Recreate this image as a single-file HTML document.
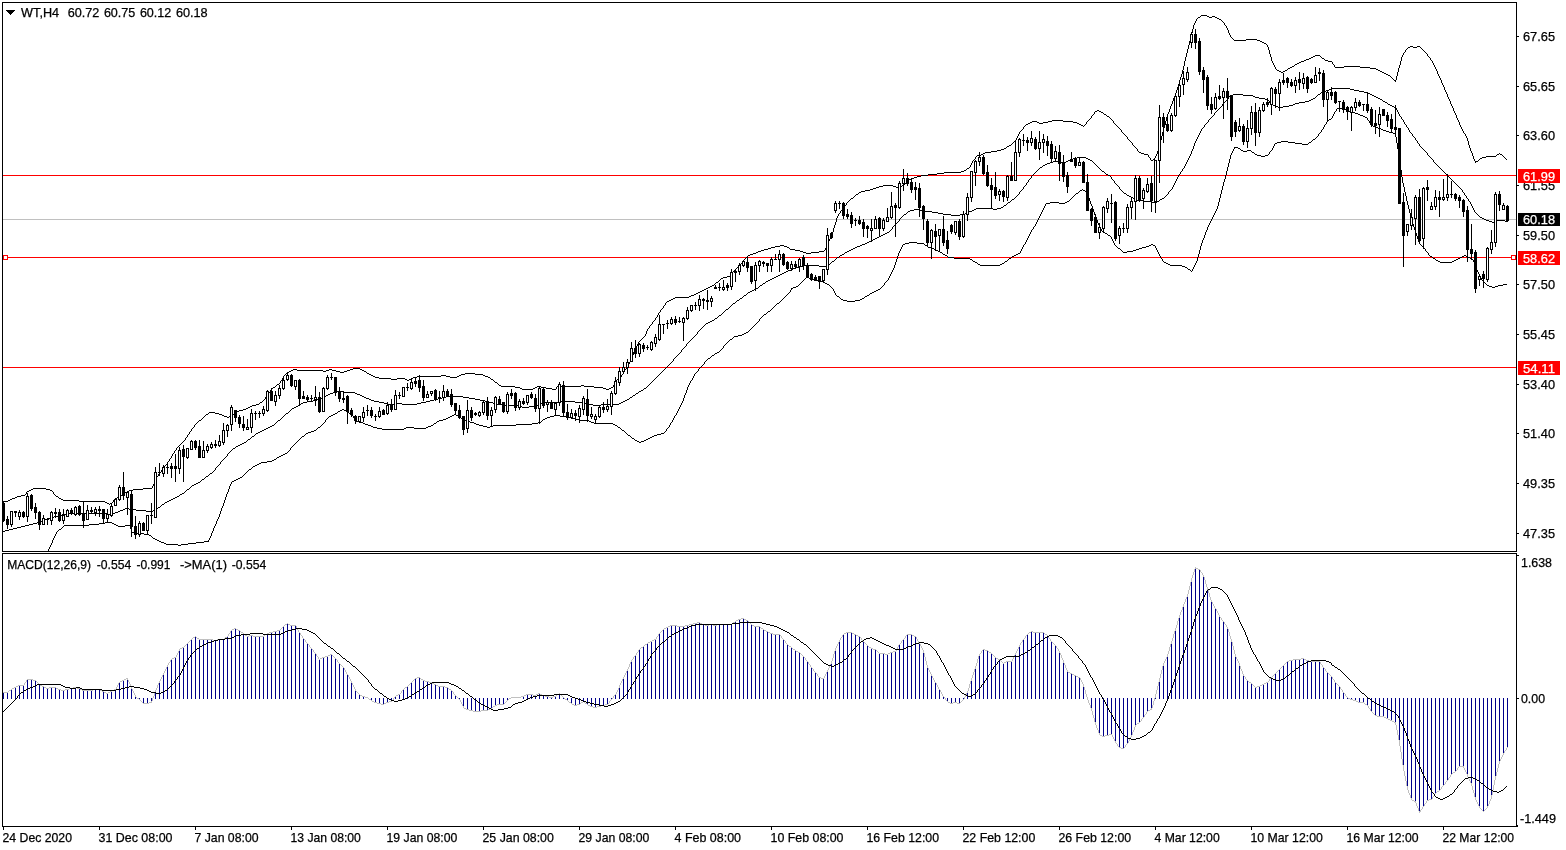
<!DOCTYPE html>
<html><head><meta charset="utf-8"><title>WT,H4</title>
<style>html,body{margin:0;padding:0;background:#fff;overflow:hidden}svg{display:block}text{font-family:"Liberation Sans",sans-serif;font-size:12.6px;fill:#000;stroke:#000;stroke-width:0.25px}</style>
</head><body>
<svg width="1566" height="850" viewBox="0 0 1566 850">
<rect width="1566" height="850" fill="#fff"/>
<defs><clipPath id="c1"><rect x="3" y="3" width="1513" height="548"/></clipPath><clipPath id="c2"><rect x="3" y="554" width="1513" height="272"/></clipPath></defs>
<g clip-path="url(#c1)">
<rect x="3" y="219" width="1513" height="1" fill="#c0c0c0" shape-rendering="crispEdges"/>
<rect x="3" y="175" width="1513" height="1" fill="#ff0000" shape-rendering="crispEdges"/>
<rect x="3" y="257" width="1513" height="1" fill="#ff0000" shape-rendering="crispEdges"/>
<rect x="3" y="367" width="1513" height="1" fill="#ff0000" shape-rendering="crispEdges"/>
<g shape-rendering="crispEdges">
<path d="M1107 116h2v1h-2zM31 489h2v1h-2zM46 489h4v1h-4zM133 489h10v1h-10zM367 373h2v1h-2zM465 373h10v1h-10zM2 501h6v1h-6zM79 501h26v1h-26zM1001 149h3v1h-3zM675 297h14v1h-14zM501 386h14v1h-14zM537 386h4v1h-4zM557 386h24v1h-24zM584 386h10v1h-10zM273 387h2v1h-2zM515 387h5v1h-5zM535 387h2v1h-2zM541 387h5v1h-5zM594 387h9v1h-9zM611 387h2v1h-2zM1315 55h5v1h-5zM928 174h9v1h-9zM761 250h3v1h-3zM795 250h5v1h-5zM522 389h11v1h-11zM552 389h4v1h-4zM606 389h3v1h-3zM293 369h4v1h-4zM329 369h3v1h-3zM350 369h3v1h-3zM360 369h2v1h-2zM375 377h4v1h-4zM413 377h4v1h-4zM450 377h7v1h-7zM488 377h2v1h-2zM1151 160h2v1h-2zM1030 122h2v1h-2zM1037 122h2v1h-2zM1043 122h5v1h-5zM1073 122h4v1h-4zM1304 60h2v1h-2zM1325 60h3v1h-3zM1292 66h2v1h-2zM1344 66h16v1h-16zM706 288h2v1h-2zM851 198h2v1h-2zM883 185h10v1h-10zM902 185h2v1h-2zM1097 110h2v1h-2zM723 277h4v1h-4zM1408 47h2v1h-2zM1413 47h4v1h-4zM8 500h2v1h-2zM63 500h16v1h-16zM21 495h4v1h-4zM120 495h2v1h-2zM1081 125h2v1h-2zM977 155h4v1h-4zM291 370h2v1h-2zM297 370h26v1h-26zM326 370h3v1h-3zM332 370h4v1h-4zM347 370h3v1h-3zM362 370h2v1h-2zM371 375h2v1h-2zM441 375h5v1h-5zM459 375h2v1h-2zM483 375h2v1h-2zM29 490h2v1h-2zM50 490h2v1h-2zM129 490h4v1h-4zM1486 156h10v1h-10zM1052 120h11v1h-11zM379 378h12v1h-12zM397 378h8v1h-8zM411 378h2v1h-2zM10 499h2v1h-2zM61 499h2v1h-2zM252 405h4v1h-4zM870 189h3v1h-3zM1234 40h12v1h-12zM1257 40h3v1h-3zM1313 56h2v1h-2zM215 413h4v1h-4zM991 151h6v1h-6zM1288 68h2v1h-2zM1370 68h6v1h-6zM1260 41h2v1h-2zM1028 123h2v1h-2zM1039 123h4v1h-4zM1077 123h2v1h-2zM985 152h6v1h-6zM1139 152h2v1h-2zM859 192h2v1h-2zM981 154h2v1h-2zM1144 154h4v1h-4zM1497 154h2v1h-2zM1500 154h2v1h-2zM1101 112h2v1h-2zM1153 159h2v1h-2zM1410 46h3v1h-3zM1417 46h3v1h-3zM1198 17h2v1h-2zM1209 17h3v1h-3zM1215 17h2v1h-2zM775 246h5v1h-5zM784 246h3v1h-3zM256 404h3v1h-3zM873 188h3v1h-3zM1384 73h2v1h-2zM12 498h3v1h-3zM59 498h2v1h-2zM115 498h2v1h-2zM17 496h4v1h-4zM56 496h2v1h-2zM1007 146h2v1h-2zM206 414h2v1h-2zM219 414h3v1h-3zM1475 161h3v1h-3zM1032 121h5v1h-5zM1048 121h4v1h-4zM1063 121h10v1h-10zM1279 71h2v1h-2zM1283 71h2v1h-2zM1380 71h2v1h-2zM764 249h4v1h-4zM790 249h5v1h-5zM239 410h4v1h-4zM700 291h2v1h-2zM33 488h13v1h-13zM143 488h9v1h-9zM1388 75h2v1h-2zM696 293h2v1h-2zM1295 64h2v1h-2zM1104 114h2v1h-2zM1301 61h3v1h-3zM1328 61h4v1h-4zM1309 58h2v1h-2zM1322 58h2v1h-2zM756 252h2v1h-2zM803 252h3v1h-3zM811 252h8v1h-8zM209 412h6v1h-6zM235 412h2v1h-2zM123 493h2v1h-2zM243 409h3v1h-3zM373 376h2v1h-2zM417 376h24v1h-24zM446 376h4v1h-4zM457 376h2v1h-2zM485 376h3v1h-3zM879 186h4v1h-4zM893 186h3v1h-3zM899 186h3v1h-3zM287 372h2v1h-2zM340 372h4v1h-4zM671 299h2v1h-2zM917 176h4v1h-4zM750 254h3v1h-3zM1264 43h2v1h-2zM1004 148h2v1h-2zM1306 59h3v1h-3zM407 380h2v1h-2zM1207 16h2v1h-2zM1212 16h3v1h-3zM944 172h17v1h-17zM1482 157h4v1h-4zM391 379h6v1h-6zM405 379h2v1h-2zM409 379h2v1h-2zM491 379h2v1h-2zM617 379h2v1h-2zM1219 19h2v1h-2zM495 382h2v1h-2zM689 296h2v1h-2zM250 406h2v1h-2zM1277 70h2v1h-2zM1285 70h2v1h-2zM1378 70h2v1h-2zM224 416h3v1h-3zM229 416h2v1h-2zM861 191h4v1h-4zM704 289h2v1h-2zM983 153h2v1h-2zM1141 153h3v1h-3zM1281 72h2v1h-2zM1382 72h2v1h-2zM1009 145h2v1h-2zM1246 39h11v1h-11zM1290 67h2v1h-2zM1335 67h9v1h-9zM1360 67h10v1h-10zM520 388h2v1h-2zM533 388h2v1h-2zM546 388h6v1h-6zM603 388h3v1h-3zM609 388h2v1h-2zM289 371h2v1h-2zM323 371h3v1h-3zM336 371h4v1h-4zM344 371h3v1h-3zM364 371h2v1h-2zM771 247h4v1h-4zM787 247h2v1h-2zM499 385h2v1h-2zM581 385h3v1h-3zM27 491h2v1h-2zM127 491h2v1h-2zM691 295h3v1h-3zM125 492h2v1h-2zM1386 74h2v1h-2zM1262 42h2v1h-2zM712 285h2v1h-2zM876 187h3v1h-3zM896 187h3v1h-3zM353 368h7v1h-7zM673 298h2v1h-2zM1201 15h6v1h-6zM914 177h3v1h-3zM1376 69h2v1h-2zM260 402h2v1h-2zM753 253h3v1h-3zM806 253h5v1h-5zM1480 158h2v1h-2zM222 415h2v1h-2zM231 415h2v1h-2zM1095 111h2v1h-2zM1099 111h2v1h-2zM865 190h5v1h-5zM997 150h4v1h-4zM967 168h2v1h-2zM1299 62h2v1h-2zM369 374h2v1h-2zM461 374h4v1h-4zM475 374h8v1h-8zM768 248h3v1h-3zM694 294h2v1h-2zM669 300h2v1h-2zM1026 124h2v1h-2zM1079 124h2v1h-2zM937 173h7v1h-7zM1311 57h2v1h-2zM248 407h2v1h-2zM702 290h2v1h-2zM780 245h4v1h-4zM856 194h2v1h-2zM107 503h2v1h-2zM110 503h2v1h-2zM15 497h2v1h-2zM117 497h2v1h-2zM748 255h2v1h-2zM721 278h2v1h-2zM277 384h2v1h-2zM758 251h3v1h-3zM800 251h3v1h-3zM819 251h5v1h-5zM921 175h7v1h-7zM911 178h3v1h-3zM710 286h2v1h-2zM727 276h3v1h-3zM667 301h2v1h-2zM1394 80h2v1h-2zM1297 63h2v1h-2zM1217 18h2v1h-2zM105 502h2v1h-2zM227 417h2v1h-2zM246 408h2v1h-2zM237 411h2v1h-2zM199 420h2v1h-2zM909 179h2v1h-2zM708 287h2v1h-2zM964 170h2v1h-2zM698 292h2v1h-2zM716 282h2v1h-2zM961 171h3v1h-3zM1091 116h1v2h-1zM1470 148h1v3h-1zM1019 132h1v2h-1zM1158 147h1v4h-1zM1474 159h1v2h-1zM1271 57h1v4h-1zM1399 65h1v3h-1zM153 484h1v2h-1zM1015 140h1v1h-1zM1191 33h1v4h-1zM1423 50h1v1h-1zM635 348h1v2h-1zM1025 125h1v1h-1zM196 423h1v1h-1zM181 443h1v1h-1zM1496 155h1v1h-1zM1132 143h1v2h-1zM1441 80h1v3h-1zM1320 56h1v1h-1zM1196 19h1v2h-1zM1270 54h1v3h-1zM1448 97h1v2h-1zM1166 117h1v4h-1zM1454 111h1v2h-1zM1506 159h1v1h-1zM1455 113h1v2h-1zM113 500h1v2h-1zM179 445h1v1h-1zM634 350h1v2h-1zM836 218h1v4h-1zM1462 129h1v2h-1zM1406 49h1v1h-1zM1437 71h1v3h-1zM1161 136h1v4h-1zM739 265h1v1h-1zM1334 65h1v2h-1zM631 358h1v2h-1zM1469 145h1v3h-1zM1402 55h1v2h-1zM1479 159h1v1h-1zM1165 121h1v4h-1zM731 274h1v1h-1zM1425 52h1v1h-1zM163 468h1v1h-1zM1397 72h1v4h-1zM158 474h1v2h-1zM1093 114h1v1h-1zM1160 140h1v3h-1zM1088 120h1v1h-1zM715 283h1v1h-1zM1446 92h1v2h-1zM154 481h1v3h-1zM267 394h1v2h-1zM1184 61h1v5h-1zM1453 108h1v3h-1zM1456 115h1v3h-1zM1103 113h1v1h-1zM638 342h1v2h-1zM653 321h1v1h-1zM1190 37h1v4h-1zM1460 125h1v2h-1zM1148 155h1v2h-1zM1463 131h1v2h-1zM233 414h1v1h-1zM833 228h1v4h-1zM973 160h1v1h-1zM1188 45h1v4h-1zM846 203h1v2h-1zM969 167h1v1h-1zM645 334h1v2h-1zM830 237h1v2h-1zM1176 90h1v3h-1zM281 380h1v1h-1zM853 197h1v1h-1zM1006 147h1v1h-1zM1163 128h1v4h-1zM197 422h1v1h-1zM615 381h1v2h-1zM907 181h1v1h-1zM1018 134h1v2h-1zM829 239h1v2h-1zM204 416h1v1h-1zM733 271h1v1h-1zM1014 141h1v1h-1zM1175 93h1v3h-1zM185 438h1v2h-1zM1420 47h1v1h-1zM114 499h1v1h-1zM1434 65h1v2h-1zM1162 132h1v4h-1zM745 258h1v1h-1zM740 264h1v1h-1zM1444 87h1v3h-1zM1267 45h1v2h-1zM659 312h1v1h-1zM1451 104h1v2h-1zM828 241h1v3h-1zM655 318h1v2h-1zM732 272h1v2h-1zM1174 96h1v2h-1zM1458 120h1v2h-1zM650 325h1v1h-1zM743 260h1v1h-1zM164 466h1v2h-1zM276 385h1v1h-1zM52 491h1v1h-1zM53 492h1v2h-1zM630 360h1v2h-1zM1178 84h1v3h-1zM658 313h1v2h-1zM1086 122h1v2h-1zM626 367h1v2h-1zM268 393h1v1h-1zM556 387h1v2h-1zM1421 48h1v1h-1zM1422 49h1v1h-1zM1126 136h1v1h-1zM1172 101h1v3h-1zM280 381h1v2h-1zM649 326h1v2h-1zM1436 69h1v2h-1zM1092 115h1v1h-1zM974 159h1v1h-1zM1442 83h1v2h-1zM1443 85h1v2h-1zM614 383h1v2h-1zM629 362h1v2h-1zM970 165h1v2h-1zM1177 87h1v3h-1zM286 373h1v1h-1zM839 213h1v1h-1zM1450 101h1v3h-1zM1227 28h1v2h-1zM625 369h1v1h-1zM1110 118h1v1h-1zM1228 30h1v3h-1zM1111 119h1v1h-1zM1505 158h1v1h-1zM1457 118h1v2h-1zM1432 61h1v2h-1zM1136 148h1v1h-1zM1398 68h1v4h-1zM850 199h1v1h-1zM621 375h1v2h-1zM1023 127h1v2h-1zM845 205h1v1h-1zM174 451h1v2h-1zM644 336h1v1h-1zM1168 112h1v2h-1zM613 385h1v2h-1zM190 431h1v1h-1zM1287 69h1v1h-1zM1185 57h1v4h-1zM1272 61h1v2h-1zM838 214h1v2h-1zM1106 115h1v1h-1zM1128 139h1v1h-1zM664 305h1v1h-1zM1180 77h1v3h-1zM173 453h1v1h-1zM1167 114h1v3h-1zM1013 142h1v1h-1zM184 440h1v1h-1zM169 459h1v2h-1zM1113 121h1v2h-1zM497 383h1v1h-1zM825 248h1v2h-1zM1154 158h1v1h-1zM744 259h1v1h-1zM1466 136h1v2h-1zM663 306h1v2h-1zM172 454h1v2h-1zM736 268h1v1h-1zM1274 65h1v2h-1zM654 320h1v1h-1zM264 399h1v1h-1zM1130 141h1v1h-1zM1183 66h1v4h-1zM1229 33h1v2h-1zM493 380h1v1h-1zM1131 142h1v1h-1zM844 206h1v1h-1zM1085 124h1v1h-1zM1115 124h1v1h-1zM1464 133h1v1h-1zM1024 126h1v1h-1zM1439 76h1v2h-1zM195 424h1v1h-1zM908 180h1v1h-1zM1465 134h1v2h-1zM719 280h1v1h-1zM1390 76h1v1h-1zM1269 50h1v4h-1zM186 437h1v1h-1zM1424 51h1v1h-1zM637 344h1v2h-1zM1231 37h1v1h-1zM494 381h1v1h-1zM620 377h1v1h-1zM835 222h1v3h-1zM178 446h1v1h-1zM633 352h1v3h-1zM1405 50h1v2h-1zM189 432h1v2h-1zM1401 57h1v4h-1zM730 275h1v1h-1zM1117 126h1v1h-1zM490 378h1v1h-1zM1200 16h1v1h-1zM162 469h1v1h-1zM1396 76h1v4h-1zM58 497h1v1h-1zM1294 65h1v1h-1zM1392 78h1v1h-1zM1404 52h1v1h-1zM1445 90h1v2h-1zM1268 47h1v3h-1zM208 413h1v1h-1zM1192 29h1v4h-1zM122 494h1v1h-1zM168 461h1v1h-1zM1452 106h1v2h-1zM1426 53h1v1h-1zM1109 117h1v1h-1zM1427 54h1v2h-1zM1430 58h1v2h-1zM1134 146h1v1h-1zM1233 39h1v1h-1zM1459 122h1v3h-1zM1135 147h1v1h-1zM647 329h1v2h-1zM272 388h1v1h-1zM1187 49h1v4h-1zM156 477h1v2h-1zM284 375h1v1h-1zM1149 157h1v1h-1zM848 201h1v1h-1zM646 331h1v3h-1zM843 207h1v1h-1zM1266 44h1v1h-1zM1089 119h1v1h-1zM642 338h1v1h-1zM1084 125h1v1h-1zM966 169h1v1h-1zM1157 151h1v3h-1zM1428 56h1v1h-1zM1112 120h1v1h-1zM1137 149h1v2h-1zM194 425h1v2h-1zM55 495h1v1h-1zM1468 141h1v4h-1zM904 184h1v1h-1zM1194 23h1v2h-1zM1471 151h1v2h-1zM1224 23h1v2h-1zM201 419h1v1h-1zM1011 144h1v1h-1zM167 462h1v2h-1zM854 196h1v1h-1zM1189 41h1v4h-1zM177 447h1v1h-1zM742 261h1v2h-1zM714 284h1v1h-1zM737 267h1v1h-1zM1193 25h1v4h-1zM205 415h1v1h-1zM652 322h1v2h-1zM119 496h1v1h-1zM1114 123h1v1h-1zM498 384h1v1h-1zM1171 104h1v2h-1zM161 470h1v2h-1zM1438 74h1v2h-1zM1179 80h1v4h-1zM741 263h1v1h-1zM285 374h1v1h-1zM1400 61h1v4h-1zM651 324h1v1h-1zM1230 35h1v2h-1zM1094 112h1v2h-1zM720 279h1v1h-1zM1170 106h1v3h-1zM160 472h1v1h-1zM906 182h1v1h-1zM1395 81h1v1h-1zM832 232h1v3h-1zM789 248h1v1h-1zM152 486h1v2h-1zM1182 70h1v4h-1zM279 383h1v1h-1zM1116 125h1v1h-1zM847 202h1v1h-1zM1440 78h1v2h-1zM176 448h1v2h-1zM1169 109h1v3h-1zM831 235h1v2h-1zM1186 53h1v4h-1zM1195 21h1v2h-1zM641 339h1v1h-1zM1447 94h1v3h-1zM858 193h1v1h-1zM1273 63h1v2h-1zM202 418h1v1h-1zM1012 143h1v1h-1zM183 441h1v1h-1zM112 502h1v1h-1zM1461 127h1v2h-1zM1133 145h1v1h-1zM366 372h1v1h-1zM259 403h1v1h-1zM834 225h1v3h-1zM632 355h1v3h-1zM157 476h1v1h-1zM660 310h1v2h-1zM1478 160h1v1h-1zM656 317h1v1h-1zM266 396h1v1h-1zM1124 134h1v1h-1zM165 465h1v1h-1zM824 250h1v1h-1zM1090 118h1v1h-1zM972 161h1v2h-1zM643 337h1v1h-1zM1473 156h1v3h-1zM1222 21h1v1h-1zM1503 156h1v1h-1zM265 397h1v2h-1zM1226 26h1v2h-1zM975 157h1v2h-1zM1150 158h1v2h-1zM619 378h1v1h-1zM1391 77h1v1h-1zM905 183h1v1h-1zM971 163h1v2h-1zM1017 136h1v2h-1zM840 211h1v2h-1zM188 434h1v1h-1zM855 195h1v1h-1zM1499 153h1v1h-1zM1232 38h1v1h-1zM26 492h1v2h-1zM622 374h1v1h-1zM1429 57h1v1h-1zM1433 63h1v2h-1zM1127 137h1v2h-1zM109 504h1v1h-1zM1138 151h1v1h-1zM1020 131h1v1h-1zM191 429h1v2h-1zM1403 53h1v2h-1zM171 456h1v2h-1zM735 269h1v1h-1zM1472 153h1v3h-1zM1016 138h1v2h-1zM187 435h1v2h-1zM827 244h1v2h-1zM1156 154h1v2h-1zM1118 127h1v1h-1zM182 442h1v1h-1zM1173 98h1v3h-1zM1119 128h1v1h-1zM747 256h1v1h-1zM1181 74h1v3h-1zM1393 79h1v1h-1zM661 309h1v1h-1zM1333 64h1v1h-1zM271 389h1v1h-1zM155 479h1v2h-1zM170 458h1v1h-1zM657 315h1v2h-1zM1164 125h1v3h-1zM283 376h1v2h-1zM826 246h1v2h-1zM1155 156h1v2h-1zM1431 60h1v1h-1zM718 281h1v1h-1zM1467 138h1v3h-1zM1321 57h1v1h-1zM1159 143h1v4h-1zM270 390h1v2h-1zM842 208h1v2h-1zM1449 99h1v2h-1zM628 364h1v2h-1zM1083 126h1v1h-1zM1275 67h1v2h-1zM624 370h1v2h-1zM1120 129h1v1h-1zM282 378h1v2h-1zM1121 130h1v2h-1zM1022 129h1v1h-1zM1332 62h1v2h-1zM616 380h1v1h-1zM639 341h1v1h-1zM841 210h1v1h-1zM234 413h1v1h-1zM837 216h1v2h-1zM623 372h1v2h-1zM1276 69h1v1h-1zM25 494h1v1h-1zM1122 132h1v1h-1zM198 421h1v1h-1zM1123 133h1v1h-1zM666 302h1v1h-1zM734 270h1v1h-1zM166 464h1v1h-1zM1221 20h1v1h-1zM1502 155h1v1h-1zM746 257h1v1h-1zM665 303h1v2h-1zM738 266h1v1h-1zM263 400h1v1h-1zM976 156h1v1h-1zM1125 135h1v1h-1zM849 200h1v1h-1zM1435 67h1v2h-1zM627 366h1v1h-1zM269 392h1v1h-1zM1087 121h1v1h-1zM640 340h1v1h-1zM636 346h1v2h-1zM1021 130h1v1h-1zM192 428h1v1h-1zM54 494h1v1h-1zM180 444h1v1h-1zM1407 48h1v1h-1zM175 450h1v1h-1zM662 308h1v1h-1zM203 417h1v1h-1zM1225 25h1v1h-1zM159 473h1v1h-1zM1475 162h1v1h-1zM1129 140h1v1h-1zM275 386h1v1h-1zM1223 22h1v1h-1zM1504 157h1v1h-1zM262 401h1v1h-1zM648 328h1v1h-1zM1197 18h1v1h-1zM1324 59h1v1h-1zM193 427h1v1h-1z" fill="#000"/>
<path d="M877 237h2v1h-2zM118 511h2v1h-2zM146 511h7v1h-7zM800 266h4v1h-4zM819 266h7v1h-7zM66 513h42v1h-42zM113 513h2v1h-2zM62 514h4v1h-4zM108 514h5v1h-5zM1043 165h2v1h-2zM847 251h2v1h-2zM299 404h2v1h-2zM388 404h6v1h-6zM402 404h15v1h-15zM497 404h5v1h-5zM538 404h2v1h-2zM587 404h6v1h-6zM601 404h18v1h-18zM296 406h2v1h-2zM518 406h4v1h-4zM529 406h7v1h-7zM54 516h4v1h-4zM303 402h4v1h-4zM379 402h5v1h-5zM421 402h5v1h-5zM489 402h4v1h-4zM542 402h17v1h-17zM575 402h8v1h-8zM621 402h2v1h-2zM260 431h2v1h-2zM320 398h2v1h-2zM366 398h3v1h-3zM438 398h4v1h-4zM469 398h6v1h-6zM333 392h4v1h-4zM343 392h12v1h-12zM796 267h4v1h-4zM1143 201h9v1h-9zM1157 201h2v1h-2zM45 519h3v1h-3zM301 403h2v1h-2zM384 403h4v1h-4zM394 403h8v1h-8zM417 403h4v1h-4zM493 403h4v1h-4zM540 403h2v1h-2zM583 403h4v1h-4zM619 403h2v1h-2zM307 401h6v1h-6zM374 401h5v1h-5zM426 401h4v1h-4zM485 401h4v1h-4zM559 401h16v1h-16zM623 401h2v1h-2zM502 405h16v1h-16zM536 405h2v1h-2zM593 405h8v1h-8zM849 250h2v1h-2zM740 298h2v1h-2zM1329 89h3v1h-3zM1350 89h4v1h-4zM202 479h2v1h-2zM33 523h4v1h-4zM1070 159h3v1h-3zM1088 159h2v1h-2zM1040 167h2v1h-2zM1050 162h3v1h-3zM1060 162h6v1h-6zM1129 196h2v1h-2zM330 393h3v1h-3zM355 393h2v1h-2zM636 393h2v1h-2zM120 510h3v1h-3zM136 510h10v1h-10zM153 510h2v1h-2zM1275 106h3v1h-3zM1283 106h6v1h-6zM1392 106h2v1h-2zM869 241h2v1h-2zM644 388h2v1h-2zM1137 200h6v1h-6zM641 390h2v1h-2zM1332 88h18v1h-18zM313 400h4v1h-4zM371 400h3v1h-3zM430 400h4v1h-4zM480 400h5v1h-5zM625 400h2v1h-2zM1008 202h2v1h-2zM1152 202h5v1h-5zM1273 105h2v1h-2zM1289 105h4v1h-4zM1390 105h2v1h-2zM158 507h2v1h-2zM737 300h2v1h-2zM1053 161h7v1h-7zM1066 161h2v1h-2zM324 396h2v1h-2zM362 396h2v1h-2zM446 396h17v1h-17zM1482 218h2v1h-2zM784 272h2v1h-2zM932 212h6v1h-6zM967 212h2v1h-2zM1045 164h2v1h-2zM842 254h2v1h-2zM1486 220h3v1h-3zM1496 220h9v1h-9zM1278 107h5v1h-5zM1394 107h2v1h-2zM1133 198h2v1h-2zM1162 198h2v1h-2zM1305 101h4v1h-4zM1383 101h2v1h-2zM1295 103h4v1h-4zM1299 102h6v1h-6zM1385 102h2v1h-2zM1259 98h6v1h-6zM1313 98h2v1h-2zM1378 98h2v1h-2zM857 246h3v1h-3zM1271 104h2v1h-2zM1293 104h2v1h-2zM1388 104h2v1h-2zM115 512h3v1h-3zM1323 91h3v1h-3zM1359 91h5v1h-5zM910 210h4v1h-4zM919 210h4v1h-4zM972 210h2v1h-2zM1073 158h4v1h-4zM1086 158h2v1h-2zM192 485h2v1h-2zM1265 99h3v1h-3zM1311 99h2v1h-2zM1380 99h2v1h-2zM1309 100h2v1h-2zM772 278h2v1h-2zM951 215h9v1h-9zM1077 157h9v1h-9zM322 397h2v1h-2zM364 397h2v1h-2zM442 397h4v1h-4zM463 397h6v1h-6zM630 397h2v1h-2zM328 394h2v1h-2zM357 394h3v1h-3zM1106 174h2v1h-2zM1012 199h2v1h-2zM1135 199h2v1h-2zM1160 199h2v1h-2zM1127 195h2v1h-2zM756 288h2v1h-2zM1102 171h2v1h-2zM706 323h2v1h-2zM1230 95h3v1h-3zM1243 95h10v1h-10zM1372 95h2v1h-2zM40 521h3v1h-3zM292 408h2v1h-2zM175 497h2v1h-2zM1255 97h4v1h-4zM1376 97h2v1h-2zM708 322h2v1h-2zM242 443h2v1h-2zM804 265h15v1h-15zM826 265h3v1h-3zM908 211h2v1h-2zM923 211h9v1h-9zM969 211h3v1h-3zM885 233h2v1h-2zM766 281h2v1h-2zM1368 93h2v1h-2zM5 530h4v1h-4zM244 442h2v1h-2zM780 274h2v1h-2zM167 501h2v1h-2zM976 208h17v1h-17zM997 208h4v1h-4zM252 436h2v1h-2zM1321 92h2v1h-2zM1364 92h4v1h-4zM182 493h2v1h-2zM853 248h2v1h-2zM1233 94h10v1h-10zM1318 94h2v1h-2zM1370 94h2v1h-2zM1484 219h2v1h-2zM715 318h2v1h-2zM1068 160h2v1h-2zM1090 160h2v1h-2zM1047 163h3v1h-3zM873 239h2v1h-2zM165 502h2v1h-2zM123 509h2v1h-2zM129 509h7v1h-7zM155 509h2v1h-2zM768 280h2v1h-2zM278 420h2v1h-2zM1131 197h2v1h-2zM788 270h3v1h-3zM258 432h2v1h-2zM43 520h2v1h-2zM754 289h2v1h-2zM867 242h2v1h-2zM17 527h4v1h-4zM125 508h4v1h-4zM832 261h2v1h-2zM763 283h2v1h-2zM240 444h2v1h-2zM198 482h2v1h-2zM782 273h2v1h-2zM914 209h5v1h-5zM974 209h2v1h-2zM993 209h4v1h-4zM21 526h4v1h-4zM9 529h4v1h-4zM206 476h2v1h-2zM266 428h2v1h-2zM1124 193h2v1h-2zM1492 222h2v1h-2zM837 257h2v1h-2zM233 448h2v1h-2zM1004 205h2v1h-2zM317 399h3v1h-3zM369 399h2v1h-2zM434 399h4v1h-4zM475 399h5v1h-5zM627 399h2v1h-2zM326 395h2v1h-2zM360 395h2v1h-2zM633 395h2v1h-2zM938 213h5v1h-5zM965 213h2v1h-2zM875 238h2v1h-2zM1253 96h2v1h-2zM1374 96h2v1h-2zM791 269h2v1h-2zM173 498h2v1h-2zM25 525h4v1h-4zM1108 175h2v1h-2zM862 244h3v1h-3zM337 391h6v1h-6zM639 391h2v1h-2zM13 528h4v1h-4zM887 232h2v1h-2zM883 234h2v1h-2zM2 531h3v1h-3zM760 285h2v1h-2zM29 524h4v1h-4zM1489 221h3v1h-3zM1494 221h2v1h-2zM1505 221h2v1h-2zM778 275h2v1h-2zM865 243h2v1h-2zM855 247h2v1h-2zM268 427h2v1h-2zM162 504h2v1h-2zM48 518h3v1h-3zM770 279h2v1h-2zM904 214h2v1h-2zM943 214h8v1h-8zM960 214h5v1h-5zM248 439h2v1h-2zM294 407h2v1h-2zM522 407h7v1h-7zM256 433h2v1h-2zM1326 90h3v1h-3zM1354 90h5v1h-5zM845 252h2v1h-2zM752 290h2v1h-2zM169 500h2v1h-2zM171 499h2v1h-2zM238 445h2v1h-2zM180 494h2v1h-2zM851 249h2v1h-2zM264 429h2v1h-2zM51 517h3v1h-3zM1001 207h2v1h-2zM726 309h2v1h-2zM196 483h2v1h-2zM776 276h2v1h-2zM710 321h2v1h-2zM744 295h2v1h-2zM712 320h2v1h-2zM748 292h2v1h-2zM187 489h2v1h-2zM37 522h3v1h-3zM272 425h2v1h-2zM750 291h2v1h-2zM881 235h2v1h-2zM236 446h2v1h-2zM262 430h2v1h-2zM793 268h3v1h-3zM58 515h4v1h-4zM871 240h2v1h-2zM1480 217h2v1h-2zM786 271h2v1h-2zM719 315h2v1h-2zM194 484h2v1h-2zM774 277h2v1h-2zM733 303h2v1h-2zM286 413h2v1h-2zM177 496h2v1h-2zM270 426h2v1h-2zM840 255h2v1h-2zM210 473h2v1h-2zM879 236h2v1h-2zM860 245h2v1h-2zM759 286h1v1h-1zM1185 164h1v2h-1zM1028 180h1v2h-1zM1417 141h1v2h-1zM732 304h1v1h-1zM1039 168h1v1h-1zM284 415h1v1h-1zM1118 186h1v1h-1zM1119 187h1v2h-1zM1184 166h1v2h-1zM1434 162h1v1h-1zM1159 200h1v1h-1zM900 218h1v1h-1zM1419 144h1v2h-1zM1441 169h1v1h-1zM1420 146h1v1h-1zM1456 184h1v1h-1zM892 227h1v2h-1zM664 369h1v1h-1zM1467 198h1v1h-1zM1223 103h1v1h-1zM746 294h1v1h-1zM1174 183h1v2h-1zM251 437h1v1h-1zM1218 109h1v1h-1zM208 475h1v1h-1zM1397 110h1v2h-1zM228 453h1v1h-1zM185 491h1v1h-1zM676 356h1v1h-1zM1010 201h1v1h-1zM899 219h1v2h-1zM671 362h1v1h-1zM1210 118h1v1h-1zM220 462h1v2h-1zM702 327h1v1h-1zM1205 124h1v1h-1zM215 468h1v2h-1zM725 310h1v1h-1zM1268 100h1v1h-1zM1189 156h1v2h-1zM635 394h1v1h-1zM1033 174h1v1h-1zM227 454h1v2h-1zM1197 137h1v2h-1zM1421 147h1v1h-1zM1443 171h1v1h-1zM1465 195h1v1h-1zM1468 199h1v2h-1zM686 344h1v2h-1zM1469 201h1v1h-1zM285 414h1v1h-1zM1021 190h1v1h-1zM1399 114h1v2h-1zM1016 196h1v1h-1zM1188 158h1v2h-1zM1396 108h1v2h-1zM1122 191h1v1h-1zM1196 139h1v2h-1zM1315 97h1v1h-1zM1123 192h1v1h-1zM894 225h1v1h-1zM1269 101h1v2h-1zM1180 172h1v2h-1zM1270 103h1v1h-1zM1176 179h1v2h-1zM831 262h1v1h-1zM1405 124h1v1h-1zM1409 130h1v2h-1zM1446 174h1v1h-1zM839 256h1v1h-1zM1192 149h1v2h-1zM1175 181h1v2h-1zM656 377h1v1h-1zM205 477h1v1h-1zM1171 189h1v1h-1zM1007 203h1v1h-1zM1092 161h1v1h-1zM1166 195h1v1h-1zM688 342h1v1h-1zM1452 180h1v1h-1zM648 385h1v1h-1zM663 370h1v1h-1zM683 348h1v1h-1zM1222 104h1v2h-1zM1203 127h1v1h-1zM660 373h1v1h-1zM1407 127h1v1h-1zM1015 197h1v1h-1zM675 357h1v1h-1zM695 335h1v1h-1zM1199 133h1v2h-1zM1411 133h1v1h-1zM1169 191h1v1h-1zM1214 113h1v2h-1zM1098 167h1v1h-1zM1458 186h1v1h-1zM1026 183h1v2h-1zM730 306h1v1h-1zM667 366h1v1h-1zM698 331h1v1h-1zM693 337h1v1h-1zM1432 159h1v1h-1zM200 481h1v1h-1zM705 324h1v1h-1zM1025 185h1v1h-1zM1454 182h1v1h-1zM1020 191h1v1h-1zM1479 216h1v1h-1zM1320 93h1v1h-1zM1424 150h1v1h-1zM736 301h1v1h-1zM650 383h1v1h-1zM288 412h1v1h-1zM893 226h1v1h-1zM1461 189h1v1h-1zM747 293h1v1h-1zM657 376h1v1h-1zM221 461h1v1h-1zM897 222h1v1h-1zM1126 194h1v1h-1zM1228 97h1v2h-1zM723 312h1v1h-1zM1191 151h1v3h-1zM1471 204h1v2h-1zM1398 112h1v2h-1zM298 405h1v1h-1zM1031 176h1v2h-1zM225 457h1v1h-1zM1110 176h1v1h-1zM1170 190h1v1h-1zM1006 204h1v1h-1zM1426 152h1v1h-1zM1121 190h1v1h-1zM1448 176h1v1h-1zM1427 153h1v2h-1zM687 343h1v1h-1zM1022 189h1v1h-1zM1038 169h1v1h-1zM255 434h1v1h-1zM283 416h1v1h-1zM189 488h1v1h-1zM699 330h1v1h-1zM1382 100h1v1h-1zM1014 198h1v1h-1zM674 358h1v1h-1zM694 336h1v1h-1zM1198 135h1v2h-1zM274 424h1v1h-1zM1094 163h1v1h-1zM1030 178h1v1h-1zM1408 128h1v2h-1zM729 307h1v1h-1zM643 389h1v1h-1zM1178 175h1v2h-1zM1473 208h1v2h-1zM157 508h1v1h-1zM1428 155h1v1h-1zM1450 178h1v1h-1zM289 411h1v1h-1zM1177 177h1v2h-1zM906 213h1v1h-1zM762 284h1v1h-1zM1096 165h1v1h-1zM1410 132h1v1h-1zM1097 166h1v1h-1zM649 384h1v1h-1zM1457 185h1v1h-1zM1164 197h1v1h-1zM1209 119h1v1h-1zM681 350h1v2h-1zM1204 125h1v2h-1zM276 422h1v1h-1zM1215 112h1v1h-1zM653 380h1v1h-1zM1430 157h1v1h-1zM668 365h1v1h-1zM1431 158h1v1h-1zM1227 99h1v1h-1zM232 449h1v1h-1zM722 313h1v1h-1zM680 352h1v1h-1zM1219 108h1v1h-1zM632 396h1v1h-1zM1187 160h1v2h-1zM224 458h1v1h-1zM1011 200h1v1h-1zM1412 134h1v2h-1zM1422 148h1v1h-1zM672 361h1v1h-1zM1099 168h1v1h-1zM1195 141h1v2h-1zM1459 187h1v1h-1zM1037 170h1v1h-1zM282 417h1v1h-1zM830 263h1v1h-1zM1186 162h1v2h-1zM1433 160h1v2h-1zM1182 169h1v2h-1zM1194 143h1v3h-1zM655 378h1v1h-1zM1413 136h1v1h-1zM898 221h1v1h-1zM1414 137h1v1h-1zM1316 96h1v1h-1zM1193 146h1v3h-1zM1462 190h1v2h-1zM890 230h1v1h-1zM743 296h1v1h-1zM164 503h1v1h-1zM662 371h1v1h-1zM836 258h1v1h-1zM226 456h1v1h-1zM1216 111h1v1h-1zM1173 185h1v2h-1zM1093 162h1v1h-1zM1168 192h1v2h-1zM1453 181h1v1h-1zM1435 163h1v1h-1zM669 364h1v1h-1zM844 253h1v1h-1zM1208 120h1v2h-1zM213 471h1v1h-1zM190 487h1v1h-1zM700 329h1v1h-1zM1472 206h1v2h-1zM1036 171h1v1h-1zM1475 212h1v1h-1zM275 423h1v1h-1zM697 332h1v2h-1zM692 338h1v1h-1zM629 398h1v1h-1zM1416 140h1v1h-1zM1111 177h1v2h-1zM1167 194h1v1h-1zM1226 100h1v1h-1zM1463 192h1v1h-1zM1464 193h1v2h-1zM684 347h1v1h-1zM704 325h1v1h-1zM1019 192h1v2h-1zM679 353h1v1h-1zM1095 164h1v1h-1zM290 410h1v1h-1zM1455 183h1v1h-1zM1042 166h1v1h-1zM281 418h1v1h-1zM1474 210h1v2h-1zM829 264h1v1h-1zM1400 116h1v1h-1zM714 319h1v1h-1zM1101 170h1v1h-1zM1113 180h1v1h-1zM1317 95h1v1h-1zM1181 171h1v1h-1zM1429 156h1v1h-1zM647 386h1v1h-1zM1466 196h1v2h-1zM891 229h1v1h-1zM161 505h1v1h-1zM902 216h1v1h-1zM179 495h1v1h-1zM654 379h1v1h-1zM246 441h1v1h-1zM219 464h1v1h-1zM214 470h1v1h-1zM661 372h1v1h-1zM1220 107h1v1h-1zM230 451h1v1h-1zM1201 129h1v2h-1zM1402 119h1v1h-1zM1172 187h1v2h-1zM673 359h1v2h-1zM1115 183h1v1h-1zM1207 122h1v1h-1zM217 466h1v1h-1zM728 308h1v1h-1zM665 368h1v1h-1zM1035 172h1v1h-1zM280 419h1v1h-1zM638 392h1v1h-1zM691 339h1v1h-1zM735 302h1v1h-1zM1437 165h1v1h-1zM1183 168h1v1h-1zM1023 187h1v2h-1zM703 326h1v1h-1zM1477 214h1v1h-1zM1018 194h1v1h-1zM1478 215h1v1h-1zM1117 185h1v1h-1zM834 260h1v1h-1zM903 215h1v1h-1zM1415 138h1v2h-1zM1439 167h1v1h-1zM1440 168h1v1h-1zM646 387h1v1h-1zM895 224h1v1h-1zM1221 106h1v1h-1zM231 450h1v1h-1zM721 314h1v1h-1zM160 506h1v1h-1zM1190 154h1v2h-1zM1104 172h1v1h-1zM1213 115h1v1h-1zM223 459h1v1h-1zM1105 173h1v1h-1zM685 346h1v1h-1zM218 465h1v1h-1zM1165 196h1v1h-1zM1224 102h1v1h-1zM229 452h1v1h-1zM677 355h1v1h-1zM1100 169h1v1h-1zM1112 179h1v1h-1zM1460 188h1v1h-1zM1442 170h1v1h-1zM1034 173h1v1h-1zM758 287h1v1h-1zM1449 177h1v1h-1zM889 231h1v1h-1zM742 297h1v1h-1zM247 440h1v1h-1zM1401 117h1v2h-1zM204 478h1v1h-1zM1404 122h1v2h-1zM1418 143h1v1h-1zM652 381h1v1h-1zM1114 181h1v2h-1zM1003 206h1v1h-1zM1470 202h1v2h-1zM1202 128h1v1h-1zM212 472h1v1h-1zM659 374h1v1h-1zM718 316h1v1h-1zM1436 164h1v1h-1zM1451 179h1v1h-1zM666 367h1v1h-1zM1225 101h1v1h-1zM1476 213h1v1h-1zM678 354h1v1h-1zM1403 120h1v2h-1zM250 438h1v1h-1zM1406 125h1v2h-1zM1217 110h1v1h-1zM689 341h1v1h-1zM1212 116h1v1h-1zM222 460h1v1h-1zM1116 184h1v1h-1zM670 363h1v1h-1zM1024 186h1v1h-1zM191 486h1v1h-1zM701 328h1v1h-1zM724 311h1v1h-1zM1387 103h1v1h-1zM696 334h1v1h-1zM1200 131h1v2h-1zM1027 182h1v1h-1zM731 305h1v1h-1zM1438 166h1v1h-1zM835 259h1v1h-1zM739 299h1v1h-1zM201 480h1v1h-1zM901 217h1v1h-1zM1444 172h1v1h-1zM1423 149h1v1h-1zM291 409h1v1h-1zM896 223h1v1h-1zM1445 173h1v1h-1zM1179 174h1v1h-1zM209 474h1v1h-1zM186 490h1v1h-1zM765 282h1v1h-1zM651 382h1v1h-1zM1211 117h1v1h-1zM1206 123h1v1h-1zM216 467h1v1h-1zM254 435h1v1h-1zM658 375h1v1h-1zM184 492h1v1h-1zM907 212h1v1h-1zM717 317h1v1h-1zM1029 179h1v1h-1zM690 340h1v1h-1zM1425 151h1v1h-1zM1229 96h1v1h-1zM1120 189h1v1h-1zM1447 175h1v1h-1zM235 447h1v1h-1zM682 349h1v1h-1zM1032 175h1v1h-1zM1017 195h1v1h-1zM277 421h1v1h-1z" fill="#000"/>
<path d="M318 427h2v1h-2zM373 427h4v1h-4zM406 427h8v1h-8zM426 427h2v1h-2zM487 427h3v1h-3zM618 427h2v1h-2zM363 423h2v1h-2zM434 423h2v1h-2zM474 423h2v1h-2zM532 423h6v1h-6zM594 423h19v1h-19zM439 420h4v1h-4zM464 420h2v1h-2zM579 420h10v1h-10zM329 416h2v1h-2zM450 416h2v1h-2zM458 416h2v1h-2zM550 416h4v1h-4zM560 416h7v1h-7zM980 265h20v1h-20zM1170 265h12v1h-12zM796 286h2v1h-2zM1489 286h3v1h-3zM1495 286h3v1h-3zM166 544h12v1h-12zM181 544h7v1h-7zM1018 253h2v1h-2zM843 300h4v1h-4zM855 300h5v1h-5zM365 424h3v1h-3zM476 424h3v1h-3zM516 424h16v1h-16zM613 424h2v1h-2zM1436 260h2v1h-2zM1454 260h2v1h-2zM876 290h2v1h-2zM64 525h25v1h-25zM116 525h2v1h-2zM125 525h6v1h-6zM1238 148h2v1h-2zM99 523h6v1h-6zM112 523h2v1h-2zM159 541h2v1h-2zM204 541h5v1h-5zM157 540h2v1h-2zM903 244h2v1h-2zM1151 244h2v1h-2zM1360 115h3v1h-3zM1302 144h6v1h-6zM1378 128h3v1h-3zM764 314h2v1h-2zM161 542h3v1h-3zM196 542h8v1h-8zM368 425h3v1h-3zM431 425h2v1h-2zM479 425h4v1h-4zM493 425h23v1h-23zM615 425h2v1h-2zM1352 112h3v1h-3zM1371 125h2v1h-2zM1002 263h2v1h-2zM1166 263h2v1h-2zM1188 269h2v1h-2zM905 243h4v1h-4zM917 243h7v1h-7zM359 422h4v1h-4zM470 422h4v1h-4zM538 422h3v1h-3zM591 422h3v1h-3zM105 522h7v1h-7zM1275 143h2v1h-2zM1295 143h7v1h-7zM975 262h2v1h-2zM1164 262h2v1h-2zM1440 262h12v1h-12zM135 533h9v1h-9zM335 413h2v1h-2zM349 413h2v1h-2zM934 249h2v1h-2zM1136 249h3v1h-3zM1337 108h7v1h-7zM118 526h7v1h-7zM1146 246h3v1h-3zM827 284h2v1h-2zM1503 284h4v1h-4zM768 311h2v1h-2zM1381 129h2v1h-2zM841 299h2v1h-2zM860 299h2v1h-2zM59 529h2v1h-2zM1108 235h2v1h-2zM954 258h16v1h-16zM1009 258h2v1h-2zM1433 258h2v1h-2zM1458 258h2v1h-2zM837 296h2v1h-2zM865 296h2v1h-2zM637 441h2v1h-2zM641 441h3v1h-3zM742 334h2v1h-2zM443 419h3v1h-3zM543 419h2v1h-2zM575 419h4v1h-4zM1257 155h4v1h-4zM1265 155h3v1h-3zM149 535h2v1h-2zM89 524h10v1h-10zM114 524h2v1h-2zM1050 202h9v1h-9zM1065 202h2v1h-2zM267 461h5v1h-5zM377 428h5v1h-5zM404 428h2v1h-2zM414 428h12v1h-12zM1277 142h4v1h-4zM1288 142h7v1h-7zM1309 142h2v1h-2zM371 426h2v1h-2zM428 426h3v1h-3zM483 426h4v1h-4zM490 426h3v1h-3zM382 429h22v1h-22zM791 288h2v1h-2zM931 248h3v1h-3zM1118 248h2v1h-2zM1139 248h3v1h-3zM1105 233h2v1h-2zM867 295h2v1h-2zM1252 152h2v1h-2zM938 251h2v1h-2zM1127 251h6v1h-6zM744 333h2v1h-2zM717 352h2v1h-2zM925 245h2v1h-2zM1149 245h2v1h-2zM1153 245h2v1h-2zM1346 110h3v1h-3zM272 460h2v1h-2zM646 439h2v1h-2zM948 257h6v1h-6zM1460 257h2v1h-2zM1468 257h2v1h-2zM164 543h2v1h-2zM188 543h8v1h-8zM635 440h2v1h-2zM644 440h2v1h-2zM928 247h3v1h-3zM1142 247h4v1h-4zM970 259h2v1h-2zM1456 259h2v1h-2zM1471 259h2v1h-2zM178 545h3v1h-3zM306 433h2v1h-2zM661 433h3v1h-3zM1243 151h4v1h-4zM1375 127h3v1h-3zM1255 154h2v1h-2zM650 437h2v1h-2zM155 539h2v1h-2zM1358 114h2v1h-2zM446 418h2v1h-2zM461 418h2v1h-2zM545 418h2v1h-2zM571 418h4v1h-4zM1349 111h3v1h-3zM356 421h3v1h-3zM437 421h2v1h-2zM466 421h4v1h-4zM589 421h2v1h-2zM302 436h2v1h-2zM652 436h2v1h-2zM730 339h2v1h-2zM973 261h2v1h-2zM1005 261h2v1h-2zM1438 261h2v1h-2zM1452 261h2v1h-2zM1487 285h2v1h-2zM1498 285h5v1h-5zM945 255h2v1h-2zM1014 255h2v1h-2zM1464 255h2v1h-2zM311 431h3v1h-3zM847 301h8v1h-8zM872 292h2v1h-2zM279 456h2v1h-2zM632 438h2v1h-2zM648 438h2v1h-2zM249 469h2v1h-2zM809 278h4v1h-4zM1046 203h4v1h-4zM1059 203h6v1h-6zM806 277h3v1h-3zM308 432h3v1h-3zM342 409h2v1h-2zM708 358h2v1h-2zM1393 133h3v1h-3zM1102 231h2v1h-2zM738 335h4v1h-4zM940 252h2v1h-2zM1123 252h4v1h-4zM1012 256h2v1h-2zM1430 256h2v1h-2zM1462 256h2v1h-2zM1466 256h2v1h-2zM813 279h4v1h-4zM340 410h2v1h-2zM344 410h3v1h-3zM1080 190h2v1h-2zM1083 190h2v1h-2zM639 442h2v1h-2zM259 463h2v1h-2zM1313 139h2v1h-2zM255 465h2v1h-2zM448 417h2v1h-2zM547 417h3v1h-3zM567 417h4v1h-4zM1241 150h2v1h-2zM1247 150h4v1h-4zM232 481h2v1h-2zM1329 119h2v1h-2zM153 538h2v1h-2zM1355 113h3v1h-3zM1261 156h4v1h-4zM978 264h2v1h-2zM1000 264h2v1h-2zM1168 264h2v1h-2zM628 435h2v1h-2zM654 435h3v1h-3zM131 532h4v1h-4zM1234 147h4v1h-4zM943 254h2v1h-2zM1016 254h2v1h-2zM1389 132h4v1h-4zM874 291h2v1h-2zM909 242h8v1h-8zM936 250h2v1h-2zM1133 250h3v1h-3zM240 477h2v1h-2zM1344 109h2v1h-2zM144 534h5v1h-5zM777 303h2v1h-2zM793 287h3v1h-3zM1492 287h3v1h-3zM1182 266h3v1h-3zM1185 267h2v1h-2zM715 353h2v1h-2zM657 434h4v1h-4zM1076 193h2v1h-2zM825 283h2v1h-2zM817 280h4v1h-4zM862 298h2v1h-2zM331 415h2v1h-2zM452 415h2v1h-2zM456 415h2v1h-2zM554 415h6v1h-6zM878 289h2v1h-2zM870 293h2v1h-2zM277 457h2v1h-2zM821 281h2v1h-2zM1386 131h3v1h-3zM257 464h2v1h-2zM1281 141h7v1h-7zM823 282h2v1h-2zM314 430h2v1h-2zM622 430h2v1h-2zM285 453h2v1h-2zM1067 201h2v1h-2zM274 459h2v1h-2zM261 462h6v1h-6zM238 478h2v1h-2zM1365 117h2v1h-2zM1383 130h3v1h-3zM338 411h2v1h-2zM253 466h2v1h-2zM333 414h2v1h-2zM454 414h2v1h-2zM746 332h2v1h-2zM1363 116h2v1h-2zM236 479h2v1h-2zM734 336h4v1h-4zM283 454h2v1h-2zM712 355h2v1h-2zM281 455h2v1h-2zM1373 126h2v1h-2zM234 480h2v1h-2zM758 321h1v1h-1zM1411 217h1v4h-1zM1197 257h1v4h-1zM1226 171h1v4h-1zM1401 170h1v7h-1zM1225 175h1v4h-1zM704 362h1v2h-1zM835 293h1v2h-1zM892 270h1v2h-1zM252 467h1v1h-1zM1201 243h1v3h-1zM151 536h1v1h-1zM1037 220h1v2h-1zM216 521h1v3h-1zM1229 159h1v4h-1zM348 412h1v1h-1zM1407 201h1v4h-1zM243 475h1v1h-1zM1400 162h1v8h-1zM711 356h1v1h-1zM927 246h1v1h-1zM1209 223h1v2h-1zM1410 213h1v4h-1zM1033 227h1v2h-1zM884 283h1v2h-1zM290 448h1v2h-1zM1091 204h1v2h-1zM1196 261h1v2h-1zM1224 179h1v3h-1zM1029 234h1v2h-1zM1095 215h1v2h-1zM1397 143h1v6h-1zM1192 269h1v2h-1zM1325 124h1v1h-1zM785 296h1v1h-1zM1113 241h1v2h-1zM1428 253h1v2h-1zM355 419h1v2h-1zM1473 260h1v2h-1zM55 534h1v2h-1zM215 524h1v2h-1zM131 529h1v3h-1zM317 428h1v1h-1zM1219 198h1v4h-1zM776 304h1v1h-1zM1208 225h1v2h-1zM1402 177h1v6h-1zM1480 276h1v2h-1zM223 503h1v3h-1zM289 450h1v1h-1zM1045 204h1v2h-1zM1416 233h1v3h-1zM1328 120h1v1h-1zM1396 137h1v6h-1zM836 295h1v1h-1zM1071 198h1v1h-1zM1232 151h1v2h-1zM1028 236h1v2h-1zM1419 242h1v2h-1zM1420 244h1v1h-1zM1191 271h1v1h-1zM1399 155h1v7h-1zM634 439h1v1h-1zM1199 250h1v4h-1zM733 337h1v1h-1zM1090 201h1v3h-1zM1207 227h1v3h-1zM50 545h1v2h-1zM1044 206h1v2h-1zM222 506h1v2h-1zM1096 217h1v3h-1zM1075 194h1v1h-1zM724 345h1v1h-1zM672 420h1v2h-1zM1027 238h1v2h-1zM1111 237h1v2h-1zM1231 153h1v2h-1zM1040 214h1v2h-1zM1100 227h1v2h-1zM668 427h1v1h-1zM1023 245h1v2h-1zM226 494h1v3h-1zM630 436h1v1h-1zM1163 261h1v1h-1zM242 476h1v1h-1zM1478 272h1v2h-1zM631 437h1v1h-1zM798 285h1v1h-1zM924 244h1v1h-1zM1198 254h1v3h-1zM750 329h1v1h-1zM49 547h1v2h-1zM1415 230h1v3h-1zM1273 146h1v2h-1zM1421 245h1v1h-1zM1213 215h1v2h-1zM684 395h1v3h-1zM805 278h1v1h-1zM1039 216h1v2h-1zM1422 246h1v1h-1zM762 316h1v1h-1zM889 276h1v2h-1zM1155 246h1v2h-1zM1398 149h1v6h-1zM625 432h1v1h-1zM1156 248h1v2h-1zM757 322h1v1h-1zM225 497h1v3h-1zM626 433h1v1h-1zM692 378h1v2h-1zM1031 230h1v2h-1zM688 385h1v2h-1zM703 364h1v1h-1zM770 310h1v1h-1zM1272 148h1v2h-1zM1212 217h1v2h-1zM899 251h1v2h-1zM888 278h1v2h-1zM621 429h1v1h-1zM224 500h1v3h-1zM883 285h1v1h-1zM691 380h1v1h-1zM212 531h1v2h-1zM896 259h1v3h-1zM726 343h1v1h-1zM687 387h1v3h-1zM301 437h1v1h-1zM1098 223h1v2h-1zM325 420h1v2h-1zM1271 150h1v1h-1zM784 297h1v1h-1zM1221 190h1v4h-1zM293 445h1v1h-1zM617 426h1v1h-1zM51 543h1v2h-1zM211 533h1v3h-1zM895 262h1v3h-1zM673 418h1v2h-1zM1216 209h1v2h-1zM1370 123h1v2h-1zM219 514h1v3h-1zM1323 127h1v2h-1zM1041 212h1v2h-1zM541 421h1v1h-1zM669 425h1v2h-1zM732 338h1v1h-1zM756 323h1v1h-1zM799 284h1v1h-1zM1097 220h1v3h-1zM1215 211h1v2h-1zM1202 240h1v3h-1zM902 245h1v2h-1zM1425 249h1v2h-1zM1405 192h1v4h-1zM697 371h1v1h-1zM1426 251h1v1h-1zM353 416h1v2h-1zM1211 219h1v2h-1zM354 418h1v1h-1zM898 253h1v3h-1zM681 403h1v2h-1zM1036 222h1v2h-1zM1432 257h1v1h-1zM248 470h1v1h-1zM217 519h1v2h-1zM1268 154h1v1h-1zM1408 205h1v4h-1zM680 405h1v2h-1zM1334 112h1v2h-1zM1092 206h1v3h-1zM287 452h1v1h-1zM676 413h1v2h-1zM831 287h1v1h-1zM1069 200h1v1h-1zM1200 246h1v4h-1zM864 297h1v1h-1zM56 532h1v2h-1zM1474 262h1v3h-1zM1318 134h1v2h-1zM1481 278h1v2h-1zM1333 114h1v2h-1zM63 526h1v1h-1zM324 422h1v1h-1zM783 298h1v1h-1zM1406 196h1v5h-1zM228 489h1v3h-1zM624 431h1v1h-1zM1316 137h1v1h-1zM729 340h1v1h-1zM748 331h1v1h-1zM833 289h1v2h-1zM1115 245h1v1h-1zM1112 239h1v2h-1zM247 471h1v1h-1zM760 318h1v1h-1zM1082 189h1v1h-1zM1228 163h1v4h-1zM755 324h1v1h-1zM1409 209h1v4h-1zM1482 280h1v1h-1zM1479 274h1v2h-1zM1412 221h1v3h-1zM1483 281h1v1h-1zM771 309h1v1h-1zM701 366h1v1h-1zM1223 182h1v4h-1zM1214 213h1v2h-1zM1190 270h1v1h-1zM152 537h1v1h-1zM696 372h1v1h-1zM58 530h1v1h-1zM890 274h1v2h-1zM1122 251h1v1h-1zM130 526h1v3h-1zM1157 250h1v2h-1zM1035 224h1v2h-1zM881 287h1v1h-1zM1395 134h1v3h-1zM1311 141h1v1h-1zM1007 260h1v1h-1zM1327 121h1v1h-1zM1418 239h1v3h-1zM1117 247h1v1h-1zM294 444h1v1h-1zM679 407h1v2h-1zM1034 226h1v1h-1zM53 538h1v2h-1zM291 447h1v1h-1zM1484 282h1v1h-1zM1485 283h1v1h-1zM1030 232h1v2h-1zM221 508h1v3h-1zM1234 148h1v1h-1zM723 346h1v2h-1zM789 292h1v1h-1zM1026 240h1v2h-1zM1435 259h1v1h-1zM1230 155h1v4h-1zM298 440h1v1h-1zM1022 247h1v2h-1zM1317 136h1v1h-1zM52 540h1v3h-1zM1413 224h1v3h-1zM305 434h1v1h-1zM1072 197h1v1h-1zM674 416h1v2h-1zM749 330h1v1h-1zM686 390h1v3h-1zM1204 235h1v3h-1zM1233 149h1v2h-1zM1417 236h1v3h-1zM1187 268h1v1h-1zM670 423h1v2h-1zM1025 242h1v2h-1zM804 279h1v1h-1zM1220 194h1v4h-1zM761 317h1v1h-1zM666 429h1v2h-1zM1021 249h1v2h-1zM1087 194h1v2h-1zM1240 149h1v1h-1zM210 536h1v2h-1zM829 285h1v1h-1zM830 286h1v1h-1zM1203 238h1v2h-1zM218 517h1v2h-1zM246 472h1v1h-1zM802 281h1v1h-1zM1475 265h1v2h-1zM882 286h1v1h-1zM705 361h1v1h-1zM1194 265h1v2h-1zM57 531h1v1h-1zM1085 191h1v1h-1zM1210 221h1v2h-1zM885 282h1v1h-1zM897 256h1v3h-1zM1086 192h1v2h-1zM1227 167h1v4h-1zM774 306h1v1h-1zM1218 202h1v4h-1zM832 288h1v1h-1zM1193 267h1v2h-1zM790 290h1v2h-1zM1326 122h1v2h-1zM322 424h1v1h-1zM1222 186h1v4h-1zM1114 243h1v2h-1zM781 300h1v1h-1zM1429 255h1v1h-1zM1322 129h1v1h-1zM942 253h1v1h-1zM436 422h1v1h-1zM727 342h1v1h-1zM722 348h1v1h-1zM788 293h1v1h-1zM1120 249h1v1h-1zM1321 130h1v2h-1zM1158 252h1v2h-1zM702 365h1v1h-1zM1403 183h1v4h-1zM834 291h1v2h-1zM891 272h1v2h-1zM1427 252h1v1h-1zM1116 246h1v1h-1zM227 492h1v2h-1zM803 280h1v1h-1zM665 431h1v1h-1zM1274 144h1v2h-1zM1094 212h1v3h-1zM767 312h1v1h-1zM1195 263h1v2h-1zM1270 151h1v1h-1zM947 256h1v1h-1zM693 376h1v2h-1zM1160 256h1v2h-1zM292 446h1v1h-1zM214 526h1v2h-1zM886 281h1v1h-1zM1336 109h1v2h-1zM689 383h1v2h-1zM1332 116h1v2h-1zM230 484h1v2h-1zM62 527h1v1h-1zM299 439h1v1h-1zM1269 152h1v2h-1zM323 423h1v1h-1zM782 299h1v1h-1zM213 528h1v3h-1zM1089 198h1v3h-1zM1315 138h1v1h-1zM1073 196h1v1h-1zM675 415h1v1h-1zM1206 230h1v2h-1zM728 341h1v1h-1zM1011 257h1v1h-1zM1043 208h1v2h-1zM326 419h1v1h-1zM229 486h1v3h-1zM1404 187h1v5h-1zM671 422h1v1h-1zM1099 225h1v2h-1zM869 294h1v1h-1zM1477 270h1v2h-1zM664 432h1v1h-1zM754 325h1v1h-1zM972 260h1v1h-1zM1414 227h1v3h-1zM48 549h1v2h-1zM1217 206h1v3h-1zM220 511h1v3h-1zM1042 210h1v2h-1zM683 398h1v3h-1zM1038 218h1v2h-1zM695 373h1v1h-1zM1079 191h1v1h-1zM706 360h1v1h-1zM1088 196h1v2h-1zM880 288h1v1h-1zM698 369h1v2h-1zM1367 118h1v2h-1zM714 354h1v1h-1zM682 401h1v2h-1zM694 374h1v2h-1zM316 429h1v1h-1zM1476 267h1v3h-1zM775 305h1v1h-1zM1020 251h1v2h-1zM690 381h1v2h-1zM772 308h1v1h-1zM231 482h1v2h-1zM1308 143h1v1h-1zM1004 262h1v1h-1zM1486 284h1v1h-1zM677 411h1v2h-1zM1093 209h1v3h-1zM977 263h1v1h-1zM894 265h1v3h-1zM1074 195h1v1h-1zM1368 120h1v1h-1zM61 528h1v1h-1zM304 435h1v1h-1zM327 418h1v1h-1zM1369 121h1v2h-1zM276 458h1v1h-1zM295 443h1v1h-1zM1319 133h1v1h-1zM1078 192h1v1h-1zM1205 232h1v3h-1zM209 538h1v2h-1zM719 351h1v1h-1zM901 247h1v2h-1zM245 473h1v1h-1zM801 282h1v1h-1zM1159 254h1v2h-1zM1162 259h1v2h-1zM337 412h1v1h-1zM707 359h1v1h-1zM753 326h1v1h-1zM208 540h1v1h-1zM699 368h1v1h-1zM900 249h1v2h-1zM887 280h1v1h-1zM840 298h1v1h-1zM1101 229h1v2h-1zM297 441h1v1h-1zM321 425h1v1h-1zM780 301h1v1h-1zM1161 258h1v1h-1zM620 428h1v1h-1zM1251 151h1v1h-1zM1032 229h1v1h-1zM460 417h1v1h-1zM678 409h1v2h-1zM721 349h1v1h-1zM787 294h1v1h-1zM1324 125h1v2h-1zM54 536h1v2h-1zM752 327h1v1h-1zM1110 236h1v1h-1zM1070 199h1v1h-1zM685 393h1v2h-1zM1121 250h1v1h-1zM759 319h1v2h-1zM893 268h1v2h-1zM542 420h1v1h-1zM766 313h1v1h-1zM1107 234h1v1h-1zM1470 258h1v1h-1zM667 428h1v1h-1zM244 474h1v1h-1zM800 283h1v1h-1zM773 307h1v1h-1zM251 468h1v1h-1zM710 357h1v1h-1zM328 417h1v1h-1zM1423 247h1v1h-1zM296 442h1v1h-1zM1424 248h1v1h-1zM351 414h1v1h-1zM320 426h1v1h-1zM627 434h1v1h-1zM1320 132h1v1h-1zM779 302h1v1h-1zM1335 111h1v1h-1zM433 424h1v1h-1zM288 451h1v1h-1zM1331 118h1v1h-1zM725 344h1v1h-1zM791 289h1v1h-1zM1312 140h1v1h-1zM720 350h1v1h-1zM1008 259h1v1h-1zM786 295h1v1h-1zM300 438h1v1h-1zM1104 232h1v1h-1zM347 411h1v1h-1zM1024 244h1v1h-1zM1254 153h1v1h-1zM463 419h1v1h-1zM751 328h1v1h-1zM839 297h1v1h-1zM700 367h1v1h-1zM763 315h1v1h-1zM352 415h1v1h-1z" fill="#000"/>
</g>
<g shape-rendering="crispEdges">
<path d="M3 502h1v20h-1zM7 516h1v13h-1zM11 511h1v16h-1zM15 511h1v6h-1zM19 510h1v10h-1zM23 511h1v7h-1zM27 493h1v29h-1zM31 494h1v17h-1zM35 503h1v16h-1zM39 511h1v19h-1zM43 515h1v10h-1zM47 518h1v7h-1zM51 511h1v14h-1zM55 508h1v10h-1zM59 509h1v13h-1zM63 509h1v15h-1zM67 509h1v8h-1zM71 508h1v7h-1zM75 506h1v10h-1zM79 505h1v11h-1zM83 501h1v27h-1zM87 505h1v15h-1zM91 507h1v6h-1zM95 507h1v9h-1zM99 506h1v11h-1zM103 509h1v15h-1zM107 509h1v13h-1zM111 503h1v14h-1zM115 499h1v7h-1zM119 485h1v16h-1zM123 472h1v28h-1zM127 491h1v24h-1zM131 491h1v46h-1zM135 516h1v23h-1zM139 521h1v16h-1zM143 522h1v9h-1zM147 515h1v20h-1zM151 503h1v21h-1zM155 467h1v51h-1zM159 463h1v13h-1zM163 465h1v12h-1zM167 463h1v11h-1zM171 463h1v15h-1zM175 454h1v28h-1zM179 447h1v27h-1zM183 445h1v37h-1zM187 448h1v11h-1zM191 440h1v10h-1zM195 440h1v10h-1zM199 440h1v18h-1zM203 441h1v17h-1zM207 444h1v9h-1zM211 442h1v7h-1zM215 440h1v8h-1zM219 435h1v12h-1zM223 423h1v22h-1zM227 424h1v13h-1zM231 405h1v26h-1zM235 410h1v12h-1zM239 415h1v13h-1zM243 416h1v15h-1zM247 419h1v11h-1zM251 409h1v24h-1zM255 411h1v9h-1zM259 411h1v7h-1zM263 406h1v10h-1zM267 390h1v22h-1zM271 388h1v13h-1zM275 391h1v15h-1zM279 385h1v14h-1zM283 376h1v14h-1zM287 373h1v8h-1zM291 374h1v13h-1zM295 380h1v10h-1zM299 379h1v27h-1zM303 391h1v8h-1zM307 395h1v6h-1zM311 395h1v7h-1zM315 386h1v20h-1zM319 392h1v21h-1zM323 387h1v25h-1zM327 375h1v15h-1zM331 373h1v7h-1zM335 377h1v19h-1zM339 387h1v15h-1zM343 391h1v12h-1zM347 395h1v29h-1zM351 408h1v9h-1zM355 415h1v9h-1zM359 416h1v7h-1zM363 407h1v15h-1zM367 405h1v11h-1zM371 407h1v11h-1zM375 414h1v7h-1zM379 407h1v11h-1zM383 409h1v6h-1zM387 402h1v13h-1zM391 399h1v13h-1zM395 390h1v20h-1zM399 392h1v7h-1zM403 387h1v10h-1zM407 383h1v8h-1zM411 379h1v11h-1zM415 377h1v10h-1zM419 375h1v17h-1zM423 380h1v21h-1zM427 391h1v7h-1zM431 391h1v5h-1zM435 389h1v12h-1zM439 391h1v12h-1zM443 385h1v16h-1zM447 389h1v8h-1zM451 389h1v18h-1zM455 403h1v12h-1zM459 405h1v14h-1zM463 416h1v19h-1zM467 400h1v33h-1zM471 407h1v14h-1zM475 412h1v4h-1zM479 411h1v6h-1zM483 400h1v15h-1zM487 397h1v23h-1zM491 407h1v19h-1zM495 396h1v17h-1zM499 396h1v9h-1zM503 402h1v11h-1zM507 392h1v22h-1zM511 389h1v10h-1zM515 392h1v19h-1zM519 399h1v11h-1zM523 398h1v7h-1zM527 395h1v10h-1zM531 392h1v7h-1zM535 394h1v18h-1zM539 387h1v37h-1zM543 388h1v20h-1zM547 400h1v12h-1zM551 400h1v9h-1zM555 403h1v13h-1zM559 382h1v24h-1zM563 381h1v35h-1zM567 404h1v16h-1zM571 409h1v9h-1zM575 410h1v11h-1zM579 405h1v18h-1zM583 396h1v19h-1zM587 389h1v33h-1zM591 407h1v12h-1zM595 414h1v10h-1zM599 406h1v12h-1zM603 402h1v11h-1zM607 399h1v13h-1zM611 391h1v24h-1zM615 377h1v18h-1zM619 367h1v19h-1zM623 362h1v11h-1zM627 359h1v15h-1zM631 342h1v20h-1zM635 340h1v18h-1zM639 343h1v14h-1zM643 343h1v9h-1zM647 345h1v5h-1zM651 341h1v10h-1zM655 334h1v13h-1zM659 315h1v26h-1zM663 324h1v10h-1zM667 320h1v9h-1zM671 317h1v8h-1zM675 316h1v9h-1zM679 317h1v6h-1zM683 317h1v24h-1zM687 307h1v13h-1zM691 305h1v7h-1zM695 302h1v8h-1zM699 295h1v16h-1zM703 298h1v11h-1zM707 290h1v20h-1zM711 296h1v11h-1zM715 285h1v4h-1zM719 283h1v8h-1zM723 280h1v11h-1zM727 283h1v8h-1zM731 269h1v21h-1zM735 270h1v12h-1zM739 263h1v12h-1zM743 260h1v7h-1zM747 257h1v15h-1zM751 266h1v18h-1zM755 262h1v29h-1zM759 260h1v12h-1zM763 261h1v6h-1zM767 263h1v9h-1zM771 257h1v15h-1zM775 254h1v6h-1zM779 250h1v22h-1zM783 253h1v13h-1zM787 261h1v9h-1zM791 261h1v10h-1zM795 261h1v8h-1zM799 258h1v14h-1zM803 255h1v15h-1zM807 263h1v15h-1zM811 273h1v8h-1zM815 275h1v6h-1zM819 276h1v13h-1zM823 269h1v14h-1zM827 228h1v47h-1zM831 232h1v7h-1zM835 201h1v12h-1zM839 201h1v8h-1zM843 202h1v17h-1zM847 209h1v10h-1zM851 212h1v16h-1zM855 218h1v8h-1zM859 216h1v9h-1zM863 219h1v18h-1zM867 225h1v13h-1zM871 219h1v23h-1zM875 216h1v13h-1zM879 217h1v19h-1zM883 218h1v13h-1zM887 208h1v14h-1zM891 192h1v27h-1zM895 203h1v34h-1zM899 181h1v28h-1zM903 169h1v22h-1zM907 173h1v13h-1zM911 179h1v14h-1zM915 182h1v18h-1zM919 183h1v34h-1zM923 205h1v25h-1zM927 219h1v27h-1zM931 229h1v30h-1zM935 224h1v27h-1zM939 229h1v22h-1zM943 216h1v30h-1zM947 231h1v23h-1zM951 224h1v10h-1zM955 221h1v14h-1zM959 219h1v21h-1zM963 211h1v27h-1zM967 193h1v28h-1zM971 171h1v31h-1zM975 160h1v26h-1zM979 152h1v14h-1zM983 155h1v20h-1zM987 165h1v22h-1zM991 178h1v31h-1zM995 172h1v27h-1zM999 189h1v12h-1zM1003 190h1v12h-1zM1007 175h1v26h-1zM1011 162h1v19h-1zM1015 141h1v40h-1zM1019 138h1v19h-1zM1023 134h1v12h-1zM1027 137h1v14h-1zM1031 131h1v15h-1zM1035 137h1v13h-1zM1039 131h1v29h-1zM1043 134h1v19h-1zM1047 136h1v20h-1zM1051 141h1v22h-1zM1055 146h1v16h-1zM1059 145h1v36h-1zM1063 155h1v27h-1zM1067 172h1v21h-1zM1071 152h1v10h-1zM1075 157h1v11h-1zM1079 158h1v8h-1zM1083 161h1v22h-1zM1087 174h1v37h-1zM1091 208h1v18h-1zM1095 214h1v19h-1zM1099 223h1v16h-1zM1103 206h1v27h-1zM1107 198h1v15h-1zM1111 194h1v29h-1zM1115 201h1v40h-1zM1119 226h1v18h-1zM1123 223h1v10h-1zM1127 204h1v29h-1zM1131 197h1v22h-1zM1135 175h1v45h-1zM1139 176h1v26h-1zM1143 188h1v21h-1zM1147 178h1v15h-1zM1151 176h1v36h-1zM1155 160h1v53h-1zM1159 105h1v78h-1zM1163 113h1v30h-1zM1167 115h1v17h-1zM1171 113h1v19h-1zM1175 93h1v24h-1zM1179 84h1v23h-1zM1183 71h1v24h-1zM1187 67h1v15h-1zM1191 32h1v16h-1zM1195 29h1v20h-1zM1199 38h1v37h-1zM1203 67h1v26h-1zM1207 75h1v35h-1zM1211 97h1v17h-1zM1215 93h1v17h-1zM1219 85h1v15h-1zM1223 88h1v31h-1zM1227 78h1v32h-1zM1231 96h1v45h-1zM1235 120h1v17h-1zM1239 118h1v14h-1zM1243 124h1v21h-1zM1247 120h1v28h-1zM1251 106h1v29h-1zM1255 103h1v43h-1zM1259 107h1v30h-1zM1263 102h1v10h-1zM1267 98h1v9h-1zM1271 87h1v28h-1zM1275 87h1v21h-1zM1279 79h1v32h-1zM1283 73h1v12h-1zM1287 77h1v11h-1zM1291 79h1v8h-1zM1295 77h1v16h-1zM1299 72h1v18h-1zM1303 73h1v16h-1zM1307 76h1v17h-1zM1311 78h1v6h-1zM1315 67h1v16h-1zM1319 68h1v13h-1zM1323 70h1v37h-1zM1327 90h1v31h-1zM1331 87h1v13h-1zM1335 91h1v13h-1zM1339 101h1v11h-1zM1343 100h1v13h-1zM1347 106h1v14h-1zM1351 106h1v25h-1zM1355 98h1v13h-1zM1359 100h1v7h-1zM1363 104h1v7h-1zM1367 92h1v21h-1zM1371 107h1v20h-1zM1375 110h1v24h-1zM1379 107h1v30h-1zM1383 109h1v7h-1zM1387 112h1v15h-1zM1391 114h1v19h-1zM1395 105h1v29h-1zM1399 128h1v76h-1zM1403 193h1v74h-1zM1407 224h1v12h-1zM1411 209h1v21h-1zM1415 195h1v50h-1zM1419 189h1v55h-1zM1423 187h1v62h-1zM1427 180h1v21h-1zM1431 202h1v8h-1zM1435 190h1v20h-1zM1439 191h1v26h-1zM1443 179h1v22h-1zM1447 174h1v27h-1zM1451 181h1v17h-1zM1455 193h1v8h-1zM1459 195h1v13h-1zM1463 199h1v18h-1zM1467 206h1v56h-1zM1471 224h1v36h-1zM1475 250h1v43h-1zM1479 274h1v12h-1zM1483 271h1v17h-1zM1487 247h1v35h-1zM1491 230h1v24h-1zM1495 192h1v55h-1zM1499 191h1v20h-1zM1503 203h1v7h-1zM1507 205h1v17h-1z" fill="#000"/>
<path d="M2 503h3v18h-3zM6 519h3v6h-3zM10 511h3v14h-3zM14 511h3v2h-3zM18 512h3v5h-3zM22 512h3v5h-3zM26 496h3v21h-3zM30 495h3v14h-3zM34 507h3v6h-3zM38 512h3v13h-3zM42 518h3v7h-3zM46 519h3v1h-3zM50 512h3v9h-3zM54 512h3v2h-3zM58 512h3v9h-3zM62 515h3v6h-3zM66 510h3v7h-3zM70 510h3v4h-3zM74 507h3v8h-3zM78 506h3v9h-3zM82 513h3v8h-3zM86 510h3v10h-3zM90 510h3v2h-3zM94 509h3v4h-3zM98 509h3v2h-3zM102 509h3v10h-3zM106 514h3v5h-3zM110 506h3v10h-3zM114 499h3v7h-3zM118 487h3v13h-3zM122 487h3v9h-3zM126 492h3v6h-3zM130 494h3v33h-3zM134 526h3v9h-3zM138 523h3v12h-3zM142 523h3v8h-3zM146 515h3v16h-3zM150 515h3v1h-3zM154 472h3v46h-3zM158 472h3v1h-3zM162 467h3v7h-3zM166 467h3v1h-3zM170 466h3v3h-3zM174 466h3v3h-3zM178 450h3v19h-3zM182 449h3v8h-3zM186 448h3v10h-3zM190 441h3v9h-3zM194 441h3v7h-3zM198 446h3v12h-3zM202 450h3v8h-3zM206 446h3v5h-3zM210 444h3v4h-3zM214 444h3v2h-3zM218 441h3v5h-3zM222 430h3v13h-3zM226 425h3v6h-3zM230 407h3v18h-3zM234 410h3v8h-3zM238 417h3v7h-3zM242 424h3v4h-3zM246 427h3v3h-3zM250 413h3v15h-3zM254 413h3v1h-3zM258 413h3v1h-3zM262 409h3v5h-3zM266 391h3v20h-3zM270 391h3v10h-3zM274 395h3v7h-3zM278 388h3v8h-3zM282 380h3v9h-3zM286 375h3v5h-3zM290 375h3v11h-3zM294 380h3v7h-3zM298 380h3v19h-3zM302 396h3v3h-3zM306 397h3v3h-3zM310 398h3v1h-3zM314 397h3v3h-3zM318 397h3v15h-3zM322 388h3v24h-3zM326 377h3v12h-3zM330 377h3v1h-3zM334 377h3v16h-3zM338 392h3v7h-3zM342 398h3v2h-3zM346 396h3v16h-3zM350 410h3v5h-3zM354 416h3v5h-3zM358 416h3v6h-3zM362 412h3v6h-3zM366 410h3v1h-3zM370 410h3v6h-3zM374 416h3v1h-3zM378 411h3v6h-3zM382 410h3v5h-3zM386 405h3v9h-3zM390 404h3v6h-3zM394 395h3v15h-3zM398 395h3v1h-3zM402 387h3v10h-3zM406 387h3v1h-3zM410 382h3v7h-3zM414 381h3v3h-3zM418 380h3v8h-3zM422 386h3v12h-3zM426 394h3v4h-3zM430 391h3v3h-3zM434 390h3v9h-3zM438 397h3v1h-3zM442 391h3v7h-3zM446 391h3v5h-3zM450 394h3v11h-3zM454 403h3v8h-3zM458 410h3v8h-3zM462 416h3v14h-3zM466 410h3v19h-3zM470 410h3v8h-3zM474 413h3v2h-3zM478 412h3v4h-3zM482 402h3v11h-3zM486 402h3v14h-3zM490 410h3v6h-3zM494 397h3v13h-3zM498 399h3v5h-3zM502 402h3v10h-3zM506 394h3v18h-3zM510 393h3v3h-3zM514 393h3v15h-3zM518 401h3v7h-3zM522 401h3v3h-3zM526 395h3v8h-3zM530 394h3v4h-3zM534 398h3v11h-3zM538 388h3v21h-3zM542 389h3v17h-3zM546 402h3v3h-3zM550 402h3v7h-3zM554 403h3v7h-3zM558 384h3v19h-3zM562 385h3v28h-3zM566 412h3v6h-3zM570 413h3v5h-3zM574 413h3v3h-3zM578 408h3v9h-3zM582 398h3v12h-3zM586 399h3v17h-3zM590 414h3v3h-3zM594 416h3v4h-3zM598 407h3v10h-3zM602 407h3v3h-3zM606 406h3v4h-3zM610 393h3v14h-3zM614 381h3v13h-3zM618 371h3v12h-3zM622 367h3v5h-3zM626 362h3v6h-3zM630 348h3v14h-3zM634 348h3v6h-3zM638 344h3v10h-3zM642 345h3v4h-3zM646 347h3v1h-3zM650 342h3v8h-3zM654 337h3v7h-3zM658 324h3v16h-3zM662 324h3v1h-3zM666 323h3v1h-3zM670 319h3v5h-3zM674 319h3v4h-3zM678 321h3v1h-3zM682 318h3v5h-3zM686 310h3v9h-3zM690 305h3v6h-3zM694 305h3v1h-3zM698 299h3v7h-3zM702 299h3v2h-3zM706 300h3v2h-3zM710 298h3v4h-3zM714 287h3v2h-3zM718 287h3v1h-3zM722 287h3v3h-3zM726 285h3v3h-3zM730 272h3v15h-3zM734 271h3v2h-3zM738 265h3v7h-3zM742 261h3v5h-3zM746 262h3v6h-3zM750 266h3v16h-3zM754 265h3v16h-3zM758 261h3v5h-3zM762 262h3v2h-3zM766 263h3v3h-3zM770 259h3v7h-3zM774 259h3v1h-3zM778 254h3v6h-3zM782 254h3v11h-3zM786 262h3v7h-3zM790 264h3v5h-3zM794 264h3v3h-3zM798 259h3v8h-3zM802 257h3v9h-3zM806 265h3v12h-3zM810 274h3v6h-3zM814 277h3v4h-3zM818 276h3v6h-3zM822 269h3v12h-3zM826 235h3v35h-3zM830 233h3v5h-3zM834 203h3v8h-3zM838 203h3v1h-3zM842 203h3v13h-3zM846 214h3v3h-3zM850 215h3v9h-3zM854 220h3v1h-3zM858 220h3v4h-3zM862 222h3v7h-3zM866 226h3v3h-3zM870 228h3v3h-3zM874 219h3v10h-3zM878 218h3v11h-3zM882 220h3v9h-3zM886 217h3v5h-3zM890 206h3v12h-3zM894 205h3v3h-3zM898 183h3v25h-3zM902 178h3v6h-3zM906 178h3v6h-3zM910 182h3v8h-3zM914 187h3v3h-3zM918 188h3v20h-3zM922 206h3v13h-3zM926 221h3v22h-3zM930 230h3v13h-3zM934 231h3v6h-3zM938 229h3v7h-3zM942 229h3v14h-3zM946 240h3v9h-3zM950 225h3v7h-3zM954 221h3v12h-3zM958 221h3v16h-3zM962 214h3v23h-3zM966 197h3v18h-3zM970 171h3v27h-3zM974 161h3v12h-3zM978 157h3v5h-3zM982 157h3v17h-3zM986 172h3v14h-3zM990 185h3v5h-3zM994 187h3v9h-3zM998 191h3v4h-3zM1002 191h3v6h-3zM1006 176h3v22h-3zM1010 176h3v5h-3zM1014 152h3v29h-3zM1018 139h3v14h-3zM1022 140h3v1h-3zM1026 140h3v3h-3zM1030 138h3v5h-3zM1034 139h3v10h-3zM1038 142h3v7h-3zM1042 139h3v4h-3zM1046 141h3v5h-3zM1050 144h3v15h-3zM1054 151h3v8h-3zM1058 152h3v12h-3zM1062 162h3v15h-3zM1066 175h3v12h-3zM1070 159h3v3h-3zM1074 158h3v8h-3zM1078 162h3v4h-3zM1082 162h3v21h-3zM1086 182h3v29h-3zM1090 209h3v12h-3zM1094 217h3v16h-3zM1098 227h3v6h-3zM1102 207h3v22h-3zM1106 201h3v8h-3zM1110 203h3v1h-3zM1114 202h3v37h-3zM1118 228h3v8h-3zM1122 228h3v1h-3zM1126 207h3v22h-3zM1130 201h3v7h-3zM1134 178h3v24h-3zM1138 178h3v23h-3zM1142 190h3v9h-3zM1146 184h3v8h-3zM1150 183h3v18h-3zM1154 160h3v42h-3zM1158 117h3v44h-3zM1162 117h3v10h-3zM1166 124h3v7h-3zM1170 115h3v16h-3zM1174 96h3v20h-3zM1178 85h3v12h-3zM1182 78h3v7h-3zM1186 72h3v8h-3zM1190 34h3v9h-3zM1194 34h3v9h-3zM1198 41h3v31h-3zM1202 70h3v10h-3zM1206 77h3v29h-3zM1210 104h3v6h-3zM1214 97h3v12h-3zM1218 96h3v3h-3zM1222 91h3v7h-3zM1226 91h3v7h-3zM1230 96h3v41h-3zM1234 122h3v10h-3zM1238 126h3v5h-3zM1242 126h3v16h-3zM1246 128h3v14h-3zM1250 112h3v17h-3zM1254 112h3v21h-3zM1258 110h3v23h-3zM1262 104h3v7h-3zM1266 102h3v3h-3zM1270 88h3v17h-3zM1274 89h3v5h-3zM1278 82h3v12h-3zM1282 80h3v3h-3zM1286 78h3v5h-3zM1290 82h3v4h-3zM1294 80h3v6h-3zM1298 79h3v4h-3zM1302 78h3v6h-3zM1306 77h3v12h-3zM1310 79h3v4h-3zM1314 75h3v8h-3zM1318 72h3v2h-3zM1322 73h3v27h-3zM1326 92h3v8h-3zM1330 92h3v4h-3zM1334 92h3v11h-3zM1338 101h3v1h-3zM1342 102h3v8h-3zM1346 107h3v5h-3zM1350 107h3v6h-3zM1354 102h3v6h-3zM1358 102h3v4h-3zM1362 104h3v1h-3zM1366 104h3v7h-3zM1370 109h3v16h-3zM1374 123h3v3h-3zM1378 114h3v11h-3zM1382 109h3v7h-3zM1386 115h3v6h-3zM1390 119h3v10h-3zM1394 127h3v3h-3zM1398 128h3v76h-3zM1402 202h3v34h-3zM1406 224h3v8h-3zM1410 217h3v9h-3zM1414 197h3v22h-3zM1418 197h3v44h-3zM1422 188h3v51h-3zM1426 187h3v3h-3zM1430 206h3v4h-3zM1434 197h3v10h-3zM1438 197h3v3h-3zM1442 197h3v3h-3zM1446 194h3v4h-3zM1450 194h3v1h-3zM1454 194h3v5h-3zM1458 197h3v4h-3zM1462 200h3v12h-3zM1466 210h3v40h-3zM1470 249h3v5h-3zM1474 252h3v37h-3zM1478 276h3v4h-3zM1482 274h3v5h-3zM1486 248h3v32h-3zM1490 242h3v8h-3zM1494 194h3v49h-3zM1498 194h3v11h-3zM1502 205h3v5h-3zM1506 206h3v15h-3z" fill="#000"/>
<path d="M11 512h1v12h-1zM19 513h1v3h-1zM27 497h1v19h-1zM43 519h1v5h-1zM51 513h1v7h-1zM63 516h1v4h-1zM67 511h1v5h-1zM75 508h1v6h-1zM87 511h1v8h-1zM95 510h1v2h-1zM107 515h1v3h-1zM111 507h1v8h-1zM115 500h1v5h-1zM119 488h1v11h-1zM127 493h1v4h-1zM139 524h1v10h-1zM147 516h1v14h-1zM155 473h1v44h-1zM163 468h1v5h-1zM179 451h1v17h-1zM187 449h1v8h-1zM191 442h1v7h-1zM203 451h1v6h-1zM207 447h1v3h-1zM211 445h1v2h-1zM219 442h1v3h-1zM223 431h1v11h-1zM227 426h1v4h-1zM231 408h1v16h-1zM247 428h1v1h-1zM251 414h1v13h-1zM263 410h1v3h-1zM267 392h1v18h-1zM275 396h1v5h-1zM279 389h1v6h-1zM283 381h1v7h-1zM287 376h1v3h-1zM295 381h1v5h-1zM315 398h1v1h-1zM323 389h1v22h-1zM327 378h1v10h-1zM359 417h1v4h-1zM363 413h1v4h-1zM379 412h1v4h-1zM387 406h1v7h-1zM395 396h1v13h-1zM403 388h1v8h-1zM411 383h1v5h-1zM427 395h1v2h-1zM431 392h1v1h-1zM443 392h1v5h-1zM467 411h1v17h-1zM479 413h1v2h-1zM483 403h1v9h-1zM491 411h1v4h-1zM495 398h1v11h-1zM507 395h1v16h-1zM519 402h1v5h-1zM527 396h1v6h-1zM539 389h1v19h-1zM547 403h1v1h-1zM555 404h1v5h-1zM559 385h1v17h-1zM571 414h1v3h-1zM579 409h1v7h-1zM583 399h1v10h-1zM591 415h1v1h-1zM595 417h1v2h-1zM599 408h1v8h-1zM607 407h1v2h-1zM611 394h1v12h-1zM615 382h1v11h-1zM619 372h1v10h-1zM623 368h1v3h-1zM627 363h1v4h-1zM631 349h1v12h-1zM639 345h1v8h-1zM651 343h1v6h-1zM655 338h1v5h-1zM659 325h1v14h-1zM671 320h1v3h-1zM683 319h1v3h-1zM687 311h1v7h-1zM691 306h1v4h-1zM699 300h1v5h-1zM711 299h1v2h-1zM723 288h1v1h-1zM731 273h1v13h-1zM739 266h1v5h-1zM743 262h1v3h-1zM755 266h1v14h-1zM759 262h1v3h-1zM771 260h1v5h-1zM779 255h1v4h-1zM791 265h1v3h-1zM799 260h1v6h-1zM823 270h1v10h-1zM827 236h1v33h-1zM835 204h1v6h-1zM871 229h1v1h-1zM875 220h1v8h-1zM883 221h1v7h-1zM887 218h1v3h-1zM891 207h1v10h-1zM899 184h1v23h-1zM903 179h1v4h-1zM931 231h1v11h-1zM939 230h1v5h-1zM955 222h1v10h-1zM963 215h1v21h-1zM967 198h1v16h-1zM971 172h1v25h-1zM975 162h1v10h-1zM979 158h1v3h-1zM999 192h1v2h-1zM1007 177h1v20h-1zM1015 153h1v27h-1zM1019 140h1v12h-1zM1031 139h1v3h-1zM1039 143h1v5h-1zM1043 140h1v2h-1zM1055 152h1v6h-1zM1079 163h1v2h-1zM1099 228h1v4h-1zM1103 208h1v20h-1zM1107 202h1v6h-1zM1119 229h1v6h-1zM1127 208h1v20h-1zM1131 202h1v5h-1zM1135 179h1v22h-1zM1143 191h1v7h-1zM1147 185h1v6h-1zM1155 161h1v40h-1zM1159 118h1v42h-1zM1171 116h1v14h-1zM1175 97h1v18h-1zM1179 86h1v10h-1zM1183 79h1v5h-1zM1187 73h1v6h-1zM1191 35h1v7h-1zM1215 98h1v10h-1zM1223 92h1v5h-1zM1239 127h1v3h-1zM1247 129h1v12h-1zM1251 113h1v15h-1zM1259 111h1v21h-1zM1263 105h1v5h-1zM1271 89h1v15h-1zM1279 83h1v10h-1zM1295 81h1v4h-1zM1303 79h1v4h-1zM1315 76h1v6h-1zM1327 93h1v6h-1zM1351 108h1v4h-1zM1355 103h1v4h-1zM1379 115h1v9h-1zM1407 225h1v6h-1zM1411 218h1v7h-1zM1415 198h1v20h-1zM1423 189h1v49h-1zM1431 207h1v2h-1zM1435 198h1v8h-1zM1443 198h1v1h-1zM1447 195h1v2h-1zM1479 277h1v2h-1zM1487 249h1v30h-1zM1491 243h1v6h-1zM1495 195h1v47h-1zM1503 206h1v3h-1z" fill="#fff"/>
</g>
</g>
<g clip-path="url(#c2)">
<path d="M3 693h1v6h-1zM7 693h1v6h-1zM11 690h1v9h-1zM15 687h1v12h-1zM19 686h1v13h-1zM23 686h1v13h-1zM27 680h1v19h-1zM31 679h1v20h-1zM35 681h1v18h-1zM39 684h1v15h-1zM43 687h1v12h-1zM47 688h1v11h-1zM51 688h1v11h-1zM55 687h1v12h-1zM59 689h1v10h-1zM63 690h1v9h-1zM67 690h1v9h-1zM71 688h1v11h-1zM75 688h1v11h-1zM79 689h1v10h-1zM83 691h1v8h-1zM87 691h1v8h-1zM91 690h1v9h-1zM95 690h1v9h-1zM99 690h1v9h-1zM103 692h1v7h-1zM107 693h1v6h-1zM111 691h1v8h-1zM115 689h1v10h-1zM119 682h1v17h-1zM123 680h1v19h-1zM127 679h1v20h-1zM131 688h1v11h-1zM135 696h1v3h-1zM139 698h1v2h-1zM143 698h1v5h-1zM147 698h1v6h-1zM151 698h1v5h-1zM155 691h1v8h-1zM159 681h1v18h-1zM163 673h1v26h-1zM167 666h1v33h-1zM171 660h1v39h-1zM175 657h1v42h-1zM179 650h1v49h-1zM183 647h1v52h-1zM187 643h1v56h-1zM191 639h1v60h-1zM195 637h1v62h-1zM199 640h1v59h-1zM203 640h1v59h-1zM207 640h1v59h-1zM211 640h1v59h-1zM215 641h1v58h-1zM219 640h1v59h-1zM223 639h1v60h-1zM227 637h1v62h-1zM231 630h1v69h-1zM235 629h1v70h-1zM239 631h1v68h-1zM243 633h1v66h-1zM247 636h1v63h-1zM251 636h1v63h-1zM255 636h1v63h-1zM259 637h1v62h-1zM263 636h1v63h-1zM267 633h1v66h-1zM271 633h1v66h-1zM275 632h1v67h-1zM279 630h1v69h-1zM283 627h1v72h-1zM287 624h1v75h-1zM291 626h1v73h-1zM295 626h1v73h-1zM299 633h1v66h-1zM303 638h1v61h-1zM307 643h1v56h-1zM311 648h1v51h-1zM315 653h1v46h-1zM319 659h1v40h-1zM323 658h1v41h-1zM327 656h1v43h-1zM331 655h1v44h-1zM335 659h1v40h-1zM339 664h1v35h-1zM343 668h1v31h-1zM347 675h1v24h-1zM351 683h1v16h-1zM355 690h1v9h-1zM359 695h1v4h-1zM363 696h1v3h-1zM371 698h1v2h-1zM375 698h1v5h-1zM379 698h1v5h-1zM383 698h1v6h-1zM387 698h1v4h-1zM391 698h1v3h-1zM395 697h1v2h-1zM399 695h1v4h-1zM403 690h1v9h-1zM407 687h1v12h-1zM411 683h1v16h-1zM415 678h1v21h-1zM419 677h1v22h-1zM423 681h1v18h-1zM427 682h1v17h-1zM431 683h1v16h-1zM435 685h1v14h-1zM439 687h1v12h-1zM443 686h1v13h-1zM447 687h1v12h-1zM451 690h1v9h-1zM455 696h1v3h-1zM459 698h1v2h-1zM463 698h1v10h-1zM467 698h1v11h-1zM471 698h1v13h-1zM475 698h1v14h-1zM479 698h1v14h-1zM483 698h1v12h-1zM487 698h1v13h-1zM491 698h1v11h-1zM495 698h1v7h-1zM499 698h1v6h-1zM503 698h1v6h-1zM507 698h1v2h-1zM523 696h1v3h-1zM527 694h1v5h-1zM531 694h1v5h-1zM535 696h1v3h-1zM539 694h1v5h-1zM543 695h1v4h-1zM547 696h1v3h-1zM551 697h1v2h-1zM555 696h1v3h-1zM559 694h1v5h-1zM563 697h1v2h-1zM567 698h1v2h-1zM571 698h1v5h-1zM575 698h1v8h-1zM579 698h1v7h-1zM583 698h1v4h-1zM587 698h1v7h-1zM591 698h1v9h-1zM595 698h1v10h-1zM599 698h1v8h-1zM603 698h1v8h-1zM607 698h1v7h-1zM611 698h1v1h-1zM615 694h1v5h-1zM619 686h1v13h-1zM623 678h1v21h-1zM627 671h1v28h-1zM631 661h1v38h-1zM635 655h1v44h-1zM639 649h1v50h-1zM643 646h1v53h-1zM647 644h1v55h-1zM651 641h1v58h-1zM655 640h1v59h-1zM659 633h1v66h-1zM663 630h1v69h-1zM667 628h1v71h-1zM671 626h1v73h-1zM675 626h1v73h-1zM679 627h1v72h-1zM683 627h1v72h-1zM687 626h1v73h-1zM691 625h1v74h-1zM695 623h1v76h-1zM699 623h1v76h-1zM703 624h1v75h-1zM707 625h1v74h-1zM711 625h1v74h-1zM715 625h1v74h-1zM719 625h1v74h-1zM723 625h1v74h-1zM727 625h1v74h-1zM731 625h1v74h-1zM735 622h1v77h-1zM739 620h1v79h-1zM743 618h1v81h-1zM747 620h1v79h-1zM751 625h1v74h-1zM755 626h1v73h-1zM759 627h1v72h-1zM763 629h1v70h-1zM767 632h1v67h-1zM771 633h1v66h-1zM775 634h1v65h-1zM779 635h1v64h-1zM783 639h1v60h-1zM787 644h1v55h-1zM791 648h1v51h-1zM795 651h1v48h-1zM799 653h1v46h-1zM803 656h1v43h-1zM807 662h1v37h-1zM811 668h1v31h-1zM815 673h1v26h-1zM819 677h1v22h-1zM823 678h1v21h-1zM827 671h1v28h-1zM831 662h1v37h-1zM835 650h1v49h-1zM839 640h1v59h-1zM843 635h1v64h-1zM847 632h1v67h-1zM851 633h1v66h-1zM855 634h1v65h-1zM859 637h1v62h-1zM863 641h1v58h-1zM867 645h1v54h-1zM871 648h1v51h-1zM875 650h1v49h-1zM879 653h1v46h-1zM883 654h1v45h-1zM887 655h1v44h-1zM891 652h1v47h-1zM895 651h1v48h-1zM899 645h1v54h-1zM903 639h1v60h-1zM907 635h1v64h-1zM911 635h1v64h-1zM915 637h1v62h-1zM919 644h1v55h-1zM923 652h1v47h-1zM927 667h1v32h-1zM931 676h1v23h-1zM935 683h1v16h-1zM939 689h1v10h-1zM943 696h1v3h-1zM947 698h1v4h-1zM951 698h1v5h-1zM955 698h1v4h-1zM959 698h1v6h-1zM963 698h1v1h-1zM967 693h1v6h-1zM971 679h1v20h-1zM975 667h1v32h-1zM979 655h1v44h-1zM983 649h1v50h-1zM987 651h1v48h-1zM991 654h1v45h-1zM995 657h1v42h-1zM999 659h1v40h-1zM1003 663h1v36h-1zM1007 662h1v37h-1zM1011 662h1v37h-1zM1015 653h1v46h-1zM1019 646h1v53h-1zM1023 639h1v60h-1zM1027 635h1v64h-1zM1031 632h1v67h-1zM1035 633h1v66h-1zM1039 633h1v66h-1zM1043 633h1v66h-1zM1047 635h1v64h-1zM1051 641h1v58h-1zM1055 645h1v54h-1zM1059 652h1v47h-1zM1063 662h1v37h-1zM1067 671h1v28h-1zM1071 674h1v25h-1zM1075 676h1v23h-1zM1079 678h1v21h-1zM1083 686h1v13h-1zM1087 698h1v1h-1zM1091 698h1v12h-1zM1095 698h1v26h-1zM1099 698h1v37h-1zM1103 698h1v38h-1zM1107 698h1v38h-1zM1111 698h1v36h-1zM1115 698h1v44h-1zM1119 698h1v49h-1zM1123 698h1v50h-1zM1127 698h1v45h-1zM1131 698h1v38h-1zM1135 698h1v28h-1zM1139 698h1v24h-1zM1143 698h1v19h-1zM1147 698h1v14h-1zM1151 698h1v11h-1zM1155 697h1v2h-1zM1159 679h1v20h-1zM1163 664h1v35h-1zM1167 655h1v44h-1zM1171 642h1v57h-1zM1175 630h1v69h-1zM1179 617h1v82h-1zM1183 605h1v94h-1zM1187 596h1v103h-1zM1191 580h1v119h-1zM1195 568h1v131h-1zM1199 570h1v129h-1zM1203 575h1v124h-1zM1207 589h1v110h-1zM1211 602h1v97h-1zM1215 609h1v90h-1zM1219 616h1v83h-1zM1223 621h1v78h-1zM1227 628h1v71h-1zM1231 641h1v58h-1zM1235 655h1v44h-1zM1239 664h1v35h-1zM1243 675h1v24h-1zM1247 681h1v18h-1zM1251 683h1v16h-1zM1255 687h1v12h-1zM1259 686h1v13h-1zM1263 684h1v15h-1zM1267 683h1v16h-1zM1271 677h1v22h-1zM1275 674h1v25h-1zM1279 670h1v29h-1zM1283 665h1v34h-1zM1287 662h1v37h-1zM1291 660h1v39h-1zM1295 660h1v39h-1zM1299 659h1v40h-1zM1303 659h1v40h-1zM1307 660h1v39h-1zM1311 661h1v38h-1zM1315 661h1v38h-1zM1319 662h1v37h-1zM1323 667h1v32h-1zM1327 672h1v27h-1zM1331 676h1v23h-1zM1335 683h1v16h-1zM1339 687h1v12h-1zM1343 693h1v6h-1zM1347 697h1v2h-1zM1351 698h1v1h-1zM1355 698h1v2h-1zM1359 698h1v4h-1zM1363 698h1v4h-1zM1367 698h1v8h-1zM1371 698h1v13h-1zM1375 698h1v17h-1zM1379 698h1v19h-1zM1383 698h1v19h-1zM1387 698h1v20h-1zM1391 698h1v22h-1zM1395 698h1v25h-1zM1399 698h1v45h-1zM1403 698h1v70h-1zM1407 698h1v90h-1zM1411 698h1v102h-1zM1415 698h1v104h-1zM1419 698h1v115h-1zM1423 698h1v108h-1zM1427 698h1v103h-1zM1431 698h1v102h-1zM1435 698h1v95h-1zM1439 698h1v93h-1zM1443 698h1v87h-1zM1447 698h1v82h-1zM1451 698h1v77h-1zM1455 698h1v73h-1zM1459 698h1v69h-1zM1463 698h1v69h-1zM1467 698h1v78h-1zM1471 698h1v87h-1zM1475 698h1v100h-1zM1479 698h1v109h-1zM1483 698h1v114h-1zM1487 698h1v110h-1zM1491 698h1v100h-1zM1495 698h1v80h-1zM1499 698h1v64h-1zM1503 698h1v56h-1zM1507 698h1v49h-1z" fill="#00008b" shape-rendering="crispEdges"/>
<g shape-rendering="crispEdges">
<path d="M290 625h6v1h-6zM670 625h7v1h-7zM685 625h4v1h-4zM705 625h4v1h-4zM713 625h4v1h-4zM752 625h2v1h-2zM325 656h3v1h-3zM369 699h2v1h-2zM565 699h2v1h-2zM1350 699h3v1h-3zM417 677h3v1h-3zM819 677h2v1h-2zM1078 677h2v1h-2zM432 683h2v1h-2zM1264 683h2v1h-2zM199 639h14v1h-14zM217 639h7v1h-7zM654 639h2v1h-2zM381 704h3v1h-3zM497 704h7v1h-7zM572 704h2v1h-2zM577 704h3v1h-3zM605 704h3v1h-3zM1365 704h2v1h-2zM182 647h2v1h-2zM641 647h2v1h-2zM869 647h2v1h-2zM328 655h2v1h-2zM102 691h2v1h-2zM110 691h2v1h-2zM429 682h3v1h-3zM1249 682h2v1h-2zM1266 682h2v1h-2zM495 705h2v1h-2zM574 705h3v1h-3zM588 705h2v1h-2zM601 705h4v1h-4zM1070 673h2v1h-2zM697 622h3v1h-3zM733 622h2v1h-2zM741 618h3v1h-3zM693 623h4v1h-4zM700 623h2v1h-2zM120 681h2v1h-2zM425 681h4v1h-4zM1006 661h6v1h-6zM1287 661h2v1h-2zM1309 661h11v1h-11zM9 690h2v1h-2zM61 690h4v1h-4zM82 690h11v1h-11zM100 690h2v1h-2zM112 690h2v1h-2zM106 693h2v1h-2zM538 693h2v1h-2zM398 694h2v1h-2zM526 694h7v1h-7zM536 694h2v1h-2zM540 694h2v1h-2zM557 694h2v1h-2zM137 698h2v1h-2zM509 698h2v1h-2zM1348 698h2v1h-2zM434 684h2v1h-2zM1262 684h2v1h-2zM14 687h2v1h-2zM44 687h2v1h-2zM49 687h7v1h-7zM73 687h4v1h-4zM405 687h2v1h-2zM445 687h3v1h-3zM1255 687h2v1h-2zM362 696h3v1h-3zM521 696h3v1h-3zM545 696h4v1h-4zM553 696h3v1h-3zM998 659h2v1h-2zM1293 659h8v1h-8zM1304 659h2v1h-2zM469 710h4v1h-4zM481 710h7v1h-7zM1148 710h2v1h-2zM16 686h2v1h-2zM42 686h2v1h-2zM438 686h7v1h-7zM1257 686h3v1h-3zM172 658h2v1h-2zM320 658h2v1h-2zM996 658h2v1h-2zM1301 658h3v1h-3zM365 697h3v1h-3zM511 697h10v1h-10zM549 697h4v1h-4zM1076 676h2v1h-2zM143 703h6v1h-6zM377 703h4v1h-4zM384 703h2v1h-2zM585 703h2v1h-2zM950 703h3v1h-3zM957 703h3v1h-3zM3 692h5v1h-5zM104 692h2v1h-2zM108 692h2v1h-2zM58 689h3v1h-3zM65 689h4v1h-4zM80 689h2v1h-2zM93 689h7v1h-7zM114 689h2v1h-2zM449 689h2v1h-2zM1004 662h2v1h-2zM330 654h2v1h-2zM885 654h3v1h-3zM1102 736h3v1h-3zM33 680h3v1h-3zM122 680h2v1h-2zM423 680h2v1h-2zM372 701h2v1h-2zM389 701h3v1h-3zM1356 701h2v1h-2zM1377 716h7v1h-7zM798 652h2v1h-2zM890 652h3v1h-3zM989 652h2v1h-2zM738 619h3v1h-3zM744 619h2v1h-2zM238 630h2v1h-2zM277 630h3v1h-3zM764 630h2v1h-2zM213 640h4v1h-4zM652 640h2v1h-2zM985 650h3v1h-3zM285 624h2v1h-2zM288 624h2v1h-2zM689 624h4v1h-4zM702 624h3v1h-3zM709 624h4v1h-4zM717 624h15v1h-15zM265 634h2v1h-2zM773 634h7v1h-7zM854 634h2v1h-2zM907 634h5v1h-5zM1045 634h2v1h-2zM879 653h6v1h-6zM888 653h2v1h-2zM247 636h2v1h-2zM253 636h11v1h-11zM858 636h2v1h-2zM914 636h2v1h-2zM1394 722h2v1h-2zM27 679h6v1h-6zM124 679h2v1h-2zM421 679h2v1h-2zM1429 799h3v1h-3zM1384 717h2v1h-2zM12 688h2v1h-2zM46 688h3v1h-3zM56 688h2v1h-2zM69 688h4v1h-4zM77 688h3v1h-3zM1074 675h2v1h-2zM1412 800h2v1h-2zM1427 800h2v1h-2zM1353 700h3v1h-3zM245 635h2v1h-2zM249 635h4v1h-4zM856 635h2v1h-2zM912 635h2v1h-2zM648 642h2v1h-2zM267 633h2v1h-2zM770 633h3v1h-3zM844 633h2v1h-2zM852 633h2v1h-2zM241 632h2v1h-2zM269 632h4v1h-4zM768 632h2v1h-2zM846 632h6v1h-6zM1029 632h2v1h-2zM1033 632h11v1h-11zM193 637h2v1h-2zM225 637h2v1h-2zM18 685h6v1h-6zM40 685h2v1h-2zM436 685h2v1h-2zM1260 685h2v1h-2zM793 649h2v1h-2zM873 649h3v1h-3zM983 649h2v1h-2zM473 711h8v1h-8zM174 657h2v1h-2zM322 657h3v1h-3zM668 626h2v1h-2zM677 626h8v1h-8zM754 626h6v1h-6zM1068 672h2v1h-2zM796 651h2v1h-2zM893 651h3v1h-3zM126 678h2v1h-2zM415 678h2v1h-2zM821 678h3v1h-3zM464 708h2v1h-2zM490 708h2v1h-2zM1100 735h2v1h-2zM1105 735h4v1h-4zM149 702h3v1h-3zM374 702h3v1h-3zM386 702h3v1h-3zM569 702h2v1h-2zM581 702h2v1h-2zM948 702h2v1h-2zM953 702h4v1h-4zM1358 702h6v1h-6zM1459 766h5v1h-5zM197 638h2v1h-2zM360 695h2v1h-2zM396 695h2v1h-2zM524 695h2v1h-2zM533 695h3v1h-3zM542 695h3v1h-3zM1388 719h2v1h-2zM650 641h2v1h-2zM1289 660h4v1h-4zM1306 660h3v1h-3zM1453 772h2v1h-2zM493 706h2v1h-2zM590 706h3v1h-3zM597 706h4v1h-4zM1198 569h2v1h-2zM1119 747h2v1h-2zM593 707h4v1h-4zM1375 715h2v1h-2zM1414 801h2v1h-2zM1072 674h2v1h-2zM273 631h4v1h-4zM766 631h2v1h-2zM1031 631h2v1h-2zM1109 734h3v1h-3zM234 628h2v1h-2zM664 628h2v1h-2zM761 628h2v1h-2zM1437 791h2v1h-2zM645 644h2v1h-2zM466 709h3v1h-3zM488 709h2v1h-2zM1150 709h2v1h-2zM1195 568h3v1h-3zM180 648h2v1h-2zM871 648h2v1h-2zM1137 723h2v1h-2zM666 627h2v1h-2zM1392 721h2v1h-2zM1121 748h3v1h-3zM232 629h2v1h-2zM236 629h2v1h-2zM789 646h2v1h-2zM736 620h2v1h-2zM746 620h2v1h-2zM1386 718h2v1h-2zM1419 811h2v1h-2zM1390 720h2v1h-2zM1014 655h1v2h-1zM459 699h1v1h-1zM1096 725h1v3h-1zM587 704h1v1h-1zM976 663h1v3h-1zM1082 682h1v2h-1zM316 654h1v2h-1zM356 691h1v1h-1zM926 661h1v4h-1zM1179 615h1v3h-1zM37 682h1v1h-1zM749 622h1v1h-1zM1224 622h1v2h-1zM1477 802h1v2h-1zM1134 727h1v3h-1zM927 665h1v3h-1zM132 689h1v2h-1zM1447 780h1v1h-1zM1085 690h1v4h-1zM1399 740h1v6h-1zM564 698h1v1h-1zM1086 694h1v3h-1zM158 683h1v2h-1zM116 687h1v2h-1zM1337 684h1v1h-1zM1187 594h1v3h-1zM1493 785h1v5h-1zM1231 639h1v3h-1zM171 659h1v1h-1zM934 680h1v2h-1zM937 685h1v2h-1zM1166 657h1v2h-1zM1272 676h1v1h-1zM155 690h1v3h-1zM167 665h1v2h-1zM808 662h1v2h-1zM451 690h1v1h-1zM1402 759h1v6h-1zM1395 723h1v2h-1zM1060 653h1v2h-1zM1212 602h1v2h-1zM1191 578h1v4h-1zM1497 768h1v4h-1zM812 668h1v1h-1zM967 691h1v2h-1zM1013 657h1v2h-1zM583 701h1v1h-1zM1066 668h1v2h-1zM178 651h1v2h-1zM975 666h1v3h-1zM1067 670h1v2h-1zM1373 713h1v1h-1zM1279 669h1v1h-1zM1001 661h1v1h-1zM393 698h1v2h-1zM1002 662h1v1h-1zM1022 640h1v2h-1zM638 650h1v2h-1zM839 640h1v2h-1zM1195 567h1v1h-1zM1492 790h1v5h-1zM621 681h1v2h-1zM979 654h1v2h-1zM185 645h1v1h-1zM1234 650h1v4h-1zM1095 722h1v3h-1zM1189 586h1v4h-1zM1080 678h1v2h-1zM1473 790h1v3h-1zM318 657h1v2h-1zM1364 703h1v1h-1zM1496 772h1v4h-1zM966 693h1v2h-1zM1081 680h1v2h-1zM1475 797h1v3h-1zM1404 771h1v5h-1zM134 693h1v2h-1zM162 675h1v2h-1zM1328 673h1v1h-1zM1476 800h1v2h-1zM1503 753h1v2h-1zM141 701h1v1h-1zM1226 625h1v2h-1zM131 686h1v3h-1zM177 653h1v2h-1zM1405 776h1v5h-1zM1398 735h1v5h-1zM962 700h1v1h-1zM231 630h1v1h-1zM1229 632h1v4h-1zM932 676h1v2h-1zM936 683h1v2h-1zM1499 761h1v3h-1zM1230 636h1v3h-1zM1021 642h1v1h-1zM411 682h1v1h-1zM1202 573h1v2h-1zM1194 569h1v3h-1zM838 642h1v2h-1zM1418 808h1v3h-1zM970 681h1v3h-1zM1491 795h1v4h-1zM1048 636h1v2h-1zM1061 655h1v3h-1zM408 685h1v1h-1zM810 665h1v2h-1zM1017 649h1v2h-1zM620 683h1v2h-1zM452 691h1v1h-1zM350 679h1v2h-1zM1211 600h1v2h-1zM978 656h1v3h-1zM1180 612h1v3h-1zM453 692h1v2h-1zM814 671h1v1h-1zM351 681h1v2h-1zM1135 725h1v2h-1zM152 698h1v3h-1zM902 640h1v1h-1zM1494 780h1v5h-1zM644 645h1v1h-1zM1168 651h1v3h-1zM992 654h1v1h-1zM928 668h1v2h-1zM612 698h1v1h-1zM993 655h1v1h-1zM1407 786h1v4h-1zM1426 801h1v2h-1zM1400 746h1v6h-1zM1441 787h1v2h-1zM945 698h1v2h-1zM1192 575h1v3h-1zM969 684h1v4h-1zM1465 770h1v2h-1zM343 667h1v1h-1zM946 700h1v1h-1zM305 640h1v2h-1zM1162 666h1v4h-1zM1490 799h1v2h-1zM825 674h1v2h-1zM1139 722h1v1h-1zM448 688h1v1h-1zM1452 773h1v1h-1zM924 653h1v4h-1zM319 659h1v1h-1zM1239 663h1v3h-1zM1433 796h1v1h-1zM1253 685h1v1h-1zM1188 590h1v4h-1zM610 700h1v1h-1zM662 630h1v1h-1zM988 651h1v1h-1zM1203 575h1v2h-1zM1131 735h1v2h-1zM334 657h1v1h-1zM1440 789h1v1h-1zM1049 638h1v1h-1zM454 694h1v1h-1zM780 635h1v1h-1zM349 677h1v2h-1zM455 695h1v1h-1zM1115 741h1v2h-1zM1489 801h1v3h-1zM824 676h1v2h-1zM1171 641h1v3h-1zM1432 797h1v2h-1zM1322 665h1v2h-1zM580 703h1v1h-1zM1485 809h1v1h-1zM832 658h1v3h-1zM1221 618h1v2h-1zM930 672h1v2h-1zM1186 597h1v2h-1zM394 697h1v1h-1zM170 660h1v2h-1zM995 657h1v1h-1zM1091 708h1v3h-1zM1271 677h1v1h-1zM1466 772h1v2h-1zM1092 711h1v4h-1zM154 693h1v3h-1zM166 667h1v2h-1zM1183 604h1v3h-1zM401 691h1v2h-1zM1063 660h1v3h-1zM1213 604h1v2h-1zM1026 635h1v1h-1zM1339 686h1v1h-1zM1177 621h1v4h-1zM1342 690h1v2h-1zM831 661h1v3h-1zM567 700h1v1h-1zM1343 692h1v1h-1zM1157 686h1v4h-1zM1500 759h1v2h-1zM336 659h1v1h-1zM1051 641h1v1h-1zM781 636h1v2h-1zM337 660h1v2h-1zM918 641h1v2h-1zM1052 642h1v1h-1zM1124 747h1v1h-1zM633 657h1v2h-1zM1113 737h1v2h-1zM1182 607h1v3h-1zM165 669h1v2h-1zM835 648h1v3h-1zM457 697h1v1h-1zM1161 670h1v4h-1zM1098 730h1v3h-1zM1320 662h1v2h-1zM617 690h1v2h-1zM400 693h1v1h-1zM1152 705h1v3h-1zM903 639h1v1h-1zM1084 687h1v3h-1zM36 681h1v1h-1zM230 631h1v2h-1zM1087 697h1v3h-1zM829 666h1v2h-1zM1020 643h1v2h-1zM24 683h1v2h-1zM1144 715h1v2h-1zM1422 807h1v2h-1zM407 686h1v1h-1zM1173 634h1v4h-1zM1208 590h1v3h-1zM1472 786h1v4h-1zM1214 606h1v2h-1zM151 701h1v1h-1zM834 651h1v3h-1zM1062 658h1v2h-1zM1215 608h1v1h-1zM811 667h1v1h-1zM1434 794h1v2h-1zM1367 705h1v1h-1zM616 692h1v2h-1zM1341 689h1v1h-1zM628 667h1v2h-1zM1151 708h1v1h-1zM1371 711h1v1h-1zM1345 694h1v2h-1zM1445 782h1v2h-1zM611 699h1v1h-1zM1000 660h1v1h-1zM1425 803h1v1h-1zM1273 675h1v1h-1zM828 668h1v2h-1zM338 662h1v1h-1zM1143 717h1v1h-1zM916 637h1v2h-1zM1270 678h1v1h-1zM783 639h1v1h-1zM917 639h1v2h-1zM1457 768h1v2h-1zM1054 644h1v1h-1zM784 640h1v1h-1zM302 636h1v2h-1zM11 689h1v1h-1zM1507 747h1v1h-1zM1326 671h1v1h-1zM627 669h1v2h-1zM1083 684h1v3h-1zM1478 804h1v2h-1zM133 691h1v2h-1zM1159 678h1v4h-1zM1225 624h1v1h-1zM1277 671h1v1h-1zM1130 737h1v2h-1zM1444 784h1v1h-1zM1167 654h1v3h-1zM658 634h1v2h-1zM938 687h1v2h-1zM1439 790h1v1h-1zM1126 744h1v1h-1zM1417 806h1v2h-1zM968 688h1v3h-1zM1403 765h1v6h-1zM1154 698h1v3h-1zM352 683h1v2h-1zM1284 664h1v1h-1zM813 669h1v2h-1zM1396 725h1v5h-1zM243 633h1v1h-1zM1370 709h1v2h-1zM843 634h1v1h-1zM1484 810h1v1h-1zM1347 697h1v1h-1zM991 653h1v1h-1zM960 702h1v1h-1zM972 675h1v3h-1zM1003 663h1v1h-1zM1129 739h1v2h-1zM190 640h1v1h-1zM1409 793h1v2h-1zM622 679h1v2h-1zM340 664h1v1h-1zM341 665h1v1h-1zM1056 646h1v2h-1zM1470 781h1v2h-1zM303 638h1v1h-1zM1125 745h1v2h-1zM304 639h1v1h-1zM1153 701h1v4h-1zM461 702h1v2h-1zM1324 668h1v1h-1zM1223 621h1v1h-1zM1241 669h1v2h-1zM1025 636h1v2h-1zM1227 627h1v2h-1zM1205 580h1v4h-1zM940 690h1v2h-1zM971 678h1v3h-1zM1145 714h1v1h-1zM827 670h1v2h-1zM1140 721h1v1h-1zM632 659h1v1h-1zM404 688h1v1h-1zM153 696h1v2h-1zM815 672h1v1h-1zM1247 680h1v1h-1zM161 677h1v2h-1zM1446 781h1v1h-1zM929 670h1v2h-1zM157 685h1v3h-1zM1408 790h1v3h-1zM1193 572h1v3h-1zM1156 690h1v4h-1zM1468 777h1v2h-1zM1058 649h1v2h-1zM460 700h1v2h-1zM788 645h1v1h-1zM1016 651h1v2h-1zM1065 665h1v3h-1zM38 683h1v1h-1zM1240 666h1v3h-1zM1486 808h1v1h-1zM1397 730h1v5h-1zM1449 777h1v1h-1zM615 694h1v1h-1zM1012 659h1v2h-1zM1482 810h1v1h-1zM1254 686h1v1h-1zM160 679h1v2h-1zM118 683h1v2h-1zM1204 577h1v3h-1zM624 675h1v2h-1zM1269 679h1v2h-1zM335 658h1v1h-1zM802 655h1v1h-1zM1050 639h1v2h-1zM1164 661h1v2h-1zM1456 770h1v1h-1zM1112 735h1v2h-1zM860 637h1v1h-1zM456 696h1v1h-1zM817 674h1v2h-1zM1097 728h1v2h-1zM1506 748h1v2h-1zM965 695h1v2h-1zM1374 714h1v1h-1zM1406 781h1v5h-1zM1276 672h1v1h-1zM1502 755h1v2h-1zM931 674h1v2h-1zM1232 642h1v4h-1zM981 651h1v2h-1zM1467 774h1v3h-1zM345 670h1v2h-1zM307 643h1v1h-1zM631 660h1v2h-1zM308 644h1v1h-1zM371 700h1v1h-1zM977 659h1v4h-1zM1283 665h1v1h-1zM1064 663h1v2h-1zM1170 644h1v3h-1zM282 627h1v1h-1zM1217 611h1v2h-1zM901 641h1v2h-1zM139 699h1v1h-1zM637 652h1v1h-1zM1501 757h1v2h-1zM189 641h1v1h-1zM1420 810h1v1h-1zM782 638h1v1h-1zM1114 739h1v2h-1zM1117 744h1v2h-1zM127 679h1v1h-1zM630 662h1v2h-1zM1169 647h1v4h-1zM1325 669h1v2h-1zM900 643h1v1h-1zM609 701h1v2h-1zM412 681h1v1h-1zM896 649h1v2h-1zM296 626h1v2h-1zM1419 812h1v1h-1zM1181 610h1v2h-1zM1209 593h1v4h-1zM506 701h1v1h-1zM1219 615h1v2h-1zM748 621h1v1h-1zM1331 676h1v1h-1zM1450 775h1v2h-1zM1132 732h1v3h-1zM659 633h1v1h-1zM1346 696h1v1h-1zM1185 599h1v3h-1zM608 703h1v1h-1zM1411 798h1v2h-1zM1401 752h1v7h-1zM339 663h1v1h-1zM1094 718h1v4h-1zM795 650h1v1h-1zM921 646h1v2h-1zM1285 663h1v1h-1zM1236 657h1v2h-1zM785 641h1v2h-1zM864 642h1v1h-1zM833 654h1v4h-1zM1282 666h1v1h-1zM925 657h1v4h-1zM1243 674h1v2h-1zM176 655h1v2h-1zM663 629h1v1h-1zM1479 806h1v2h-1zM1176 625h1v3h-1zM623 677h1v2h-1zM188 642h1v1h-1zM942 694h1v2h-1zM1163 663h1v3h-1zM791 647h1v1h-1zM312 649h1v1h-1zM179 649h1v2h-1zM353 685h1v2h-1zM643 646h1v1h-1zM1344 693h1v1h-1zM1158 682h1v4h-1zM840 638h1v2h-1zM735 621h1v1h-1zM1089 703h1v2h-1zM1019 645h1v2h-1zM1410 795h1v3h-1zM980 653h1v1h-1zM919 643h1v1h-1zM635 655h1v1h-1zM1498 764h1v4h-1zM1093 715h1v3h-1zM508 699h1v1h-1zM458 698h1v1h-1zM786 643h1v1h-1zM1235 654h1v3h-1zM1210 597h1v3h-1zM787 644h1v1h-1zM760 627h1v1h-1zM462 704h1v2h-1zM905 636h1v2h-1zM1474 793h1v4h-1zM866 644h1v1h-1zM281 628h1v1h-1zM1245 677h1v2h-1zM1242 671h1v3h-1zM1480 808h1v1h-1zM135 695h1v2h-1zM1228 629h1v3h-1zM1481 809h1v1h-1zM1424 804h1v2h-1zM228 634h1v2h-1zM1018 647h1v2h-1zM941 692h1v2h-1zM800 653h1v1h-1zM1136 724h1v1h-1zM801 654h1v1h-1zM355 689h1v2h-1zM1178 618h1v3h-1zM1372 712h1v1h-1zM196 637h1v1h-1zM119 682h1v1h-1zM613 696h1v2h-1zM142 702h1v1h-1zM899 644h1v1h-1zM1133 730h1v2h-1zM1088 700h1v3h-1zM1233 646h1v4h-1zM826 672h1v2h-1zM1055 645h1v1h-1zM1469 779h1v2h-1zM344 668h1v2h-1zM306 642h1v1h-1zM1190 582h1v4h-1zM1160 674h1v4h-1zM1327 672h1v1h-1zM39 684h1v1h-1zM974 669h1v3h-1zM842 635h1v2h-1zM1274 674h1v1h-1zM392 700h1v1h-1zM939 689h1v1h-1zM156 688h1v2h-1zM1128 741h1v2h-1zM1155 694h1v4h-1zM264 635h1v1h-1zM803 656h1v1h-1zM1172 638h1v3h-1zM283 626h1v1h-1zM1116 743h1v1h-1zM244 634h1v1h-1zM1281 667h1v1h-1zM1495 776h1v4h-1zM861 638h1v2h-1zM973 672h1v3h-1zM1200 570h1v2h-1zM841 637h1v1h-1zM1207 587h1v3h-1zM187 643h1v1h-1zM342 666h1v1h-1zM1184 602h1v2h-1zM1057 648h1v1h-1zM837 644h1v2h-1zM346 672h1v2h-1zM619 685h1v3h-1zM309 645h1v2h-1zM240 631h1v1h-1zM1329 674h1v1h-1zM964 697h1v2h-1zM1330 675h1v1h-1zM413 680h1v1h-1zM944 697h1v1h-1zM1463 767h1v1h-1zM1175 628h1v3h-1zM634 656h1v1h-1zM507 700h1v1h-1zM805 658h1v2h-1zM836 646h1v2h-1zM923 650h1v3h-1zM618 688h1v2h-1zM1015 653h1v2h-1zM920 644h1v2h-1zM1118 746h1v1h-1zM359 694h1v1h-1zM1238 661h1v2h-1zM816 673h1v1h-1zM862 640h1v1h-1zM128 680h1v2h-1zM863 641h1v1h-1zM1340 687h1v2h-1zM25 682h1v1h-1zM568 701h1v1h-1zM117 685h1v2h-1zM1423 806h1v1h-1zM227 636h1v1h-1zM1416 803h1v3h-1zM1174 631h1v3h-1zM1206 584h1v3h-1zM876 650h1v1h-1zM310 647h1v1h-1zM1435 793h1v1h-1zM1455 771h1v1h-1zM763 629h1v1h-1zM877 651h1v1h-1zM311 648h1v1h-1zM629 664h1v3h-1zM1488 804h1v2h-1zM1216 609h1v2h-1zM1483 811h1v1h-1zM1220 617h1v1h-1zM1332 677h1v2h-1zM563 697h1v1h-1zM1275 673h1v1h-1zM169 662h1v1h-1zM1442 786h1v1h-1zM656 637h1v2h-1zM1044 633h1v1h-1zM1458 767h1v1h-1zM807 661h1v1h-1zM922 648h1v2h-1zM818 676h1v1h-1zM130 684h1v2h-1zM1237 659h1v2h-1zM1487 806h1v2h-1zM1368 706h1v2h-1zM1244 676h1v1h-1zM1504 751h1v2h-1zM636 653h1v2h-1zM168 663h1v2h-1zM298 630h1v2h-1zM906 635h1v1h-1zM878 652h1v1h-1zM313 650h1v2h-1zM164 671h1v2h-1zM354 687h1v2h-1zM1218 613h1v2h-1zM1333 679h1v1h-1zM1023 639h1v1h-1zM195 636h1v1h-1zM140 700h1v1h-1zM1334 680h1v2h-1zM639 649h1v1h-1zM1090 705h1v3h-1zM809 664h1v1h-1zM1471 783h1v3h-1zM368 698h1v1h-1zM163 673h1v2h-1zM402 690h1v1h-1zM463 706h1v2h-1zM614 695h1v1h-1zM647 643h1v1h-1zM963 699h1v1h-1zM159 681h1v2h-1zM136 697h1v1h-1zM26 680h1v2h-1zM1146 712h1v2h-1zM409 684h1v1h-1zM224 638h1v1h-1zM297 628h1v2h-1zM300 633h1v2h-1zM314 652h1v1h-1zM315 653h1v1h-1zM1335 682h1v1h-1zM1099 733h1v2h-1zM1252 684h1v1h-1zM1336 683h1v1h-1zM626 671h1v2h-1zM933 678h1v2h-1zM333 656h1v1h-1zM657 636h1v1h-1zM1059 651h1v2h-1zM348 675h1v2h-1zM865 643h1v1h-1zM1248 681h1v1h-1zM420 678h1v1h-1zM559 693h1v1h-1zM660 632h1v1h-1zM560 694h1v1h-1zM625 673h1v2h-1zM571 703h1v1h-1zM1165 659h1v2h-1zM943 696h1v1h-1zM792 648h1v1h-1zM1286 662h1v1h-1zM317 656h1v1h-1zM357 692h1v1h-1zM750 623h1v1h-1zM358 693h1v1h-1zM751 624h1v1h-1zM395 696h1v1h-1zM1024 638h1v1h-1zM1338 685h1v1h-1zM192 638h1v1h-1zM640 648h1v1h-1zM935 682h1v1h-1zM1201 572h1v1h-1zM830 664h1v2h-1zM982 650h1v1h-1zM732 623h1v1h-1zM1047 635h1v1h-1zM1415 802h1v1h-1zM287 623h1v1h-1zM347 674h1v1h-1zM505 702h1v1h-1zM584 702h1v1h-1zM867 645h1v1h-1zM1027 634h1v1h-1zM868 646h1v1h-1zM8 691h1v1h-1zM898 645h1v2h-1zM561 695h1v1h-1zM562 696h1v1h-1zM1464 768h1v2h-1zM410 683h1v1h-1zM1142 718h1v1h-1zM1436 792h1v1h-1zM904 638h1v1h-1zM129 682h1v2h-1zM1448 778h1v2h-1zM492 707h1v1h-1zM1443 785h1v1h-1zM897 647h1v2h-1zM1141 719h1v2h-1zM1268 681h1v1h-1zM1451 774h1v1h-1zM1321 664h1v1h-1zM1505 750h1v1h-1zM1280 668h1v1h-1zM994 656h1v1h-1zM556 695h1v1h-1zM661 631h1v1h-1zM947 701h1v1h-1zM804 657h1v1h-1zM186 644h1v1h-1zM280 629h1v1h-1zM1278 670h1v1h-1zM1369 708h1v1h-1zM1127 743h1v1h-1zM184 646h1v1h-1zM299 632h1v1h-1zM403 689h1v1h-1zM284 625h1v1h-1zM1323 667h1v1h-1zM1028 633h1v1h-1zM1222 620h1v1h-1zM1251 683h1v1h-1zM961 701h1v1h-1zM1147 711h1v1h-1zM191 639h1v1h-1zM332 655h1v1h-1zM806 660h1v1h-1zM504 703h1v1h-1zM1246 679h1v1h-1zM414 679h1v1h-1zM229 633h1v1h-1zM1053 643h1v1h-1zM1421 809h1v1h-1zM301 635h1v1h-1z" fill="#c0c0c0"/>
<path d="M26 689h2v1h-2zM82 689h20v1h-20zM116 689h5v1h-5zM144 689h3v1h-3zM375 689h2v1h-2zM420 689h2v1h-2zM537 695h17v1h-17zM568 695h2v1h-2zM966 695h2v1h-2zM971 695h2v1h-2zM1006 656h13v1h-13zM24 690h2v1h-2zM102 690h14v1h-14zM147 690h2v1h-2zM165 690h2v1h-2zM462 690h2v1h-2zM30 687h3v1h-3zM65 687h5v1h-5zM76 687h4v1h-4zM125 687h4v1h-4zM134 687h6v1h-6zM423 687h2v1h-2zM696 624h36v1h-36zM766 624h4v1h-4zM285 631h3v1h-3zM309 631h2v1h-2zM678 631h2v1h-2zM785 631h2v1h-2zM384 696h2v1h-2zM409 696h2v1h-2zM470 696h2v1h-2zM533 696h4v1h-4zM570 696h2v1h-2zM968 696h3v1h-3zM387 698h2v1h-2zM405 698h2v1h-2zM528 698h2v1h-2zM575 698h3v1h-3zM1368 698h2v1h-2zM1311 660h15v1h-15zM740 622h22v1h-22zM250 633h13v1h-13zM281 633h2v1h-2zM313 633h2v1h-2zM674 633h2v1h-2zM483 705h2v1h-2zM599 705h5v1h-5zM608 705h3v1h-3zM1379 705h2v1h-2zM394 701h4v1h-4zM522 701h2v1h-2zM583 701h3v1h-3zM618 701h2v1h-2zM1372 701h2v1h-2zM200 646h2v1h-2zM328 646h2v1h-2zM889 646h2v1h-2zM908 646h3v1h-3zM1493 791h4v1h-4zM1499 791h2v1h-2zM491 709h2v1h-2zM498 709h6v1h-6zM1388 709h2v1h-2zM1296 668h2v1h-2zM1004 657h2v1h-2zM208 642h3v1h-3zM662 642h2v1h-2zM801 642h2v1h-2zM880 642h2v1h-2zM919 642h5v1h-5zM37 684h24v1h-24zM428 684h2v1h-2zM451 684h3v1h-3zM1477 780h2v1h-2zM844 659h2v1h-2zM1000 659h2v1h-2zM826 664h2v1h-2zM836 664h2v1h-2zM1302 664h2v1h-2zM412 694h2v1h-2zM554 694h14v1h-14zM964 694h2v1h-2zM973 694h2v1h-2zM1335 667h2v1h-2zM1276 680h5v1h-5zM1468 777h5v1h-5zM28 688h2v1h-2zM70 688h6v1h-6zM80 688h2v1h-2zM121 688h4v1h-4zM140 688h4v1h-4zM459 688h2v1h-2zM21 692h2v1h-2zM151 692h5v1h-5zM161 692h2v1h-2zM415 692h2v1h-2zM347 661h2v1h-2zM1308 661h3v1h-3zM1326 661h3v1h-3zM232 637h2v1h-2zM794 637h2v1h-2zM870 637h2v1h-2zM1045 637h2v1h-2zM1060 637h2v1h-2zM206 643h2v1h-2zM324 643h2v1h-2zM882 643h2v1h-2zM915 643h4v1h-4zM924 643h4v1h-4zM895 649h9v1h-9zM1491 790h2v1h-2zM1501 790h2v1h-2zM1440 799h3v1h-3zM214 640h4v1h-4zM876 640h2v1h-2zM1041 640h2v1h-2zM1447 796h2v1h-2zM691 625h5v1h-5zM770 625h4v1h-4zM391 700h3v1h-3zM398 700h4v1h-4zM524 700h2v1h-2zM581 700h2v1h-2zM432 682h17v1h-17zM487 707h2v1h-2zM508 707h3v1h-3zM1383 707h3v1h-3zM156 693h5v1h-5zM380 693h2v1h-2zM466 693h2v1h-2zM962 693h2v1h-2zM1362 693h2v1h-2zM234 636h2v1h-2zM669 636h2v1h-2zM1047 636h2v1h-2zM1058 636h2v1h-2zM824 663h2v1h-2zM838 663h2v1h-2zM1304 663h2v1h-2zM337 653h2v1h-2zM1023 653h2v1h-2zM1287 675h2v1h-2zM204 644h2v1h-2zM804 644h2v1h-2zM884 644h2v1h-2zM913 644h2v1h-2zM928 644h2v1h-2zM1036 644h2v1h-2zM241 634h9v1h-9zM263 634h18v1h-18zM672 634h2v1h-2zM288 630h4v1h-4zM307 630h2v1h-2zM680 630h2v1h-2zM783 630h2v1h-2zM35 685h2v1h-2zM61 685h2v1h-2zM426 685h2v1h-2zM454 685h2v1h-2zM1465 778h3v1h-3zM1473 778h2v1h-2zM1271 678h2v1h-2zM1283 678h2v1h-2zM687 627h2v1h-2zM777 627h2v1h-2zM389 699h2v1h-2zM402 699h3v1h-3zM474 699h2v1h-2zM526 699h2v1h-2zM578 699h3v1h-3zM840 662h2v1h-2zM1306 662h2v1h-2zM1329 662h2v1h-2zM489 708h2v1h-2zM504 708h4v1h-4zM1386 708h2v1h-2zM1486 787h2v1h-2zM478 702h2v1h-2zM518 702h4v1h-4zM586 702h4v1h-4zM616 702h2v1h-2zM1131 739h5v1h-5zM1144 735h2v1h-2zM211 641h3v1h-3zM861 641h2v1h-2zM878 641h2v1h-2zM1273 679h3v1h-3zM1281 679h2v1h-2zM493 710h5v1h-5zM1390 710h2v1h-2zM1208 589h2v1h-2zM1220 589h2v1h-2zM218 639h7v1h-7zM797 639h2v1h-2zM864 639h2v1h-2zM874 639h2v1h-2zM1269 677h2v1h-2zM515 703h3v1h-3zM590 703h4v1h-4zM614 703h2v1h-2zM1375 703h2v1h-2zM407 697h2v1h-2zM530 697h3v1h-3zM572 697h3v1h-3zM1019 655h2v1h-2zM343 658h2v1h-2zM1002 658h2v1h-2zM1028 650h2v1h-2zM1475 779h2v1h-2zM1392 711h2v1h-2zM1021 654h2v1h-2zM481 704h2v1h-2zM513 704h2v1h-2zM594 704h5v1h-5zM611 704h3v1h-3zM1377 704h2v1h-2zM202 645h2v1h-2zM886 645h3v1h-3zM911 645h2v1h-2zM1489 789h2v1h-2zM149 691h2v1h-2zM163 691h2v1h-2zM417 691h2v1h-2zM891 647h2v1h-2zM906 647h2v1h-2zM1032 647h2v1h-2zM225 638h7v1h-7zM866 638h4v1h-4zM872 638h2v1h-2zM33 686h2v1h-2zM63 686h2v1h-2zM129 686h5v1h-5zM456 686h2v1h-2zM236 635h5v1h-5zM791 635h2v1h-2zM1049 635h9v1h-9zM430 683h2v1h-2zM449 683h2v1h-2zM1025 652h2v1h-2zM283 632h2v1h-2zM311 632h2v1h-2zM676 632h2v1h-2zM787 632h2v1h-2zM828 665h3v1h-3zM834 665h2v1h-2zM1300 665h2v1h-2zM1332 665h2v1h-2zM485 706h2v1h-2zM604 706h4v1h-4zM1381 706h2v1h-2zM1125 736h2v1h-2zM1142 736h2v1h-2zM1481 783h2v1h-2zM296 628h6v1h-6zM684 628h3v1h-3zM779 628h2v1h-2zM1438 798h2v1h-2zM1443 798h2v1h-2zM1218 588h2v1h-2zM292 629h4v1h-4zM302 629h5v1h-5zM682 629h2v1h-2zM781 629h2v1h-2zM1292 671h2v1h-2zM1148 732h2v1h-2zM197 648h2v1h-2zM331 648h2v1h-2zM893 648h2v1h-2zM904 648h2v1h-2zM1140 737h2v1h-2zM1338 669h2v1h-2zM1211 587h7v1h-7zM689 626h2v1h-2zM774 626h3v1h-3zM1450 794h2v1h-2zM353 666h2v1h-2zM831 666h3v1h-3zM1436 797h2v1h-2zM1445 797h2v1h-2zM1128 738h3v1h-3zM1136 738h4v1h-4zM732 623h8v1h-8zM762 623h4v1h-4zM1497 792h2v1h-2zM625 695h1v1h-1zM1359 690h1v1h-1zM956 687h1v1h-1zM1101 695h1v2h-1zM622 698h1v1h-1zM9 705h1v1h-1zM1118 726h1v2h-1zM356 668h1v1h-1zM650 656h1v2h-1zM371 684h1v2h-1zM820 659h1v1h-1zM181 671h1v2h-1zM1261 666h1v2h-1zM1264 672h1v1h-1zM979 688h1v1h-1zM941 660h1v2h-1zM661 643h1v1h-1zM1185 647h1v3h-1zM1239 620h1v2h-1zM1431 790h1v2h-1zM1351 681h1v1h-1zM945 667h1v2h-1zM1406 733h1v3h-1zM1435 796h1v1h-1zM1193 622h1v4h-1zM174 681h1v2h-1zM1107 706h1v2h-1zM1172 685h1v3h-1zM1246 635h1v2h-1zM1110 712h1v1h-1zM1504 788h1v1h-1zM1410 744h1v3h-1zM1111 713h1v2h-1zM1253 652h1v2h-1zM668 637h1v1h-1zM982 684h1v1h-1zM363 675h1v1h-1zM326 644h1v1h-1zM1078 656h1v2h-1zM1417 759h1v3h-1zM315 634h1v1h-1zM1197 611h1v3h-1zM937 653h1v2h-1zM1424 776h1v2h-1zM1176 673h1v3h-1zM1147 733h1v1h-1zM1039 642h1v1h-1zM1184 650h1v3h-1zM1462 781h1v1h-1zM1099 692h1v2h-1zM1103 699h1v1h-1zM640 671h1v2h-1zM1457 786h1v2h-1zM959 690h1v1h-1zM1286 676h1v1h-1zM1124 735h1v1h-1zM853 649h1v1h-1zM1262 668h1v2h-1zM322 641h1v1h-1zM1196 614h1v2h-1zM1237 615h1v2h-1zM1175 676h1v3h-1zM411 695h1v1h-1zM1204 595h1v2h-1zM188 658h1v2h-1zM1408 739h1v2h-1zM1251 648h1v2h-1zM1255 655h1v2h-1zM1079 658h1v1h-1zM365 677h1v1h-1zM935 650h1v1h-1zM1483 784h1v1h-1zM1080 659h1v1h-1zM366 678h1v1h-1zM936 651h1v2h-1zM194 651h1v1h-1zM1187 641h1v3h-1zM1233 607h1v2h-1zM1422 772h1v2h-1zM1425 778h1v2h-1zM3 711h1v1h-1zM1398 716h1v2h-1zM1174 679h1v3h-1zM191 654h1v1h-1zM655 650h1v1h-1zM984 681h1v2h-1zM1199 606h1v2h-1zM10 704h1v1h-1zM999 660h1v1h-1zM1178 667h1v3h-1zM183 667h1v2h-1zM1186 644h1v3h-1zM1090 675h1v2h-1zM932 647h1v1h-1zM1366 696h1v1h-1zM1094 682h1v2h-1zM1355 686h1v1h-1zM1356 687h1v1h-1zM1161 712h1v2h-1zM953 682h1v2h-1zM1505 787h1v1h-1zM14 700h1v1h-1zM1190 632h1v3h-1zM1157 719h1v2h-1zM649 658h1v1h-1zM983 683h1v1h-1zM1198 608h1v3h-1zM816 655h1v1h-1zM1484 785h1v1h-1zM1082 661h1v2h-1zM368 680h1v2h-1zM1232 605h1v2h-1zM1177 670h1v3h-1zM1485 786h1v1h-1zM978 689h1v1h-1zM1399 718h1v2h-1zM645 664h1v2h-1zM173 683h1v1h-1zM1407 736h1v3h-1zM1503 789h1v1h-1zM1160 714h1v2h-1zM1413 751h1v2h-1zM667 638h1v1h-1zM1224 592h1v1h-1zM468 694h1v1h-1zM333 649h1v1h-1zM823 662h1v1h-1zM1156 721h1v2h-1zM1168 696h1v3h-1zM1449 795h1v1h-1zM1074 652h1v1h-1zM648 659h1v2h-1zM1480 782h1v1h-1zM1092 678h1v2h-1zM1152 728h1v2h-1zM1044 638h1v1h-1zM846 658h1v1h-1zM1461 782h1v1h-1zM1358 689h1v1h-1zM954 684h1v2h-1zM955 686h1v1h-1zM317 636h1v1h-1zM318 637h1v1h-1zM464 691h1v1h-1zM1230 601h1v2h-1zM1120 729h1v2h-1zM369 682h1v1h-1zM340 655h1v1h-1zM1084 664h1v1h-1zM370 683h1v1h-1zM1121 731h1v2h-1zM1263 670h1v2h-1zM993 667h1v2h-1zM628 690h1v2h-1zM947 671h1v2h-1zM1203 597h1v2h-1zM1241 624h1v2h-1zM1405 731h1v2h-1zM961 692h1v1h-1zM187 660h1v1h-1zM1434 794h1v2h-1zM1248 640h1v3h-1zM1412 749h1v2h-1zM1109 710h1v2h-1zM1065 641h1v2h-1zM1031 648h1v1h-1zM1113 717h1v2h-1zM1226 594h1v1h-1zM361 673h1v1h-1zM1127 737h1v1h-1zM199 647h1v1h-1zM1419 764h1v3h-1zM414 693h1v1h-1zM977 690h1v2h-1zM992 669h1v1h-1zM1426 780h1v2h-1zM659 645h1v1h-1zM654 651h1v1h-1zM988 675h1v2h-1zM957 688h1v1h-1zM1119 728h1v1h-1zM319 638h1v1h-1zM1122 733h1v1h-1zM182 669h1v2h-1zM320 639h1v1h-1zM372 686h1v1h-1zM1123 734h1v1h-1zM383 695h1v1h-1zM178 676h1v1h-1zM1374 702h1v1h-1zM1240 622h1v2h-1zM946 669h1v2h-1zM638 674h1v2h-1zM1247 637h1v3h-1zM480 703h1v1h-1zM1257 659h1v2h-1zM461 689h1v1h-1zM1254 654h1v1h-1zM378 691h1v1h-1zM934 649h1v1h-1zM851 651h1v2h-1zM644 666h1v1h-1zM938 655h1v1h-1zM1428 784h1v2h-1zM1206 591h1v2h-1zM177 677h1v2h-1zM1370 699h1v1h-1zM1100 694h1v1h-1zM172 684h1v1h-1zM637 676h1v1h-1zM858 644h1v1h-1zM1155 723h1v1h-1zM1189 635h1v3h-1zM793 636h1v1h-1zM476 700h1v1h-1zM1454 790h1v2h-1zM633 682h1v2h-1zM374 688h1v1h-1zM1488 788h1v1h-1zM458 687h1v1h-1zM850 653h1v1h-1zM1151 730h1v1h-1zM192 653h1v1h-1zM1365 695h1v1h-1zM624 696h1v1h-1zM1180 661h1v3h-1zM8 706h1v1h-1zM1256 657h1v2h-1zM1259 662h1v2h-1zM997 662h1v2h-1zM789 633h1v1h-1zM472 697h1v1h-1zM940 658h1v2h-1zM1167 699h1v2h-1zM1234 609h1v2h-1zM627 692h1v2h-1zM1360 691h1v1h-1zM1331 663h1v2h-1zM1371 700h1v1h-1zM20 693h1v1h-1zM1102 697h1v2h-1zM15 699h1v1h-1zM167 689h1v1h-1zM1030 649h1v1h-1zM1171 688h1v2h-1zM1222 590h1v1h-1zM1223 591h1v1h-1zM1265 673h1v1h-1zM981 685h1v2h-1zM1479 781h1v1h-1zM643 667h1v2h-1zM658 646h1v1h-1zM1367 697h1v1h-1zM1038 643h1v1h-1zM653 652h1v1h-1zM987 677h1v1h-1zM171 685h1v1h-1zM425 686h1v1h-1zM809 648h1v1h-1zM316 635h1v1h-1zM1072 649h1v2h-1zM810 649h1v1h-1zM473 698h1v1h-1zM1083 663h1v1h-1zM1236 613h1v2h-1zM1396 714h1v1h-1zM1340 670h1v1h-1zM1341 671h1v1h-1zM1400 720h1v2h-1zM975 693h1v1h-1zM642 669h1v1h-1zM1243 628h1v2h-1zM960 691h1v1h-1zM1063 639h1v1h-1zM1250 645h1v3h-1zM1414 753h1v2h-1zM1064 640h1v1h-1zM1225 593h1v1h-1zM469 695h1v1h-1zM1267 675h1v1h-1zM386 697h1v1h-1zM1421 769h1v3h-1zM1268 676h1v1h-1zM1093 680h1v2h-1zM1294 670h1v1h-1zM193 652h1v1h-1zM857 645h1v1h-1zM800 641h1v1h-1zM1081 660h1v1h-1zM632 684h1v1h-1zM812 651h1v1h-1zM1085 665h1v2h-1zM465 692h1v1h-1zM1342 672h1v1h-1zM1343 673h1v1h-1zM1245 632h1v3h-1zM1164 706h1v2h-1zM948 673h1v2h-1zM1242 626h1v2h-1zM623 697h1v1h-1zM652 653h1v1h-1zM1249 643h1v2h-1zM986 678h1v2h-1zM620 700h1v1h-1zM1027 651h1v1h-1zM7 707h1v1h-1zM355 667h1v1h-1zM1227 595h1v2h-1zM796 638h1v1h-1zM1420 767h1v2h-1zM377 690h1v1h-1zM4 710h1v1h-1zM1349 679h1v1h-1zM19 694h1v1h-1zM1427 782h1v2h-1zM1430 788h1v2h-1zM1035 645h1v1h-1zM651 654h1v2h-1zM11 703h1v1h-1zM350 663h1v1h-1zM422 688h1v1h-1zM666 639h1v1h-1zM647 661h1v2h-1zM1334 666h1v1h-1zM949 675h1v1h-1zM175 680h1v1h-1zM950 676h1v2h-1zM1460 783h1v1h-1zM170 686h1v1h-1zM1115 721h1v2h-1zM1455 789h1v1h-1zM334 650h1v1h-1zM1112 715h1v2h-1zM345 659h1v1h-1zM856 646h1v1h-1zM1068 645h1v1h-1zM806 645h1v1h-1zM346 660h1v1h-1zM357 669h1v1h-1zM1258 661h1v1h-1zM939 656h1v2h-1zM942 662h1v1h-1zM641 670h1v1h-1zM1352 682h1v1h-1zM1291 672h1v1h-1zM1458 785h1v1h-1zM1202 599h1v2h-1zM1104 700h1v2h-1zM186 661h1v2h-1zM998 661h1v1h-1zM330 647h1v1h-1zM341 656h1v1h-1zM352 665h1v1h-1zM342 657h1v1h-1zM477 701h1v1h-1zM1299 666h1v1h-1zM1205 593h1v2h-1zM1096 686h1v2h-1zM1201 601h1v2h-1zM13 701h1v1h-1zM185 663h1v2h-1zM807 646h1v1h-1zM336 652h1v1h-1zM1070 647h1v1h-1zM808 647h1v1h-1zM1188 638h1v3h-1zM1260 664h1v2h-1zM790 634h1v1h-1zM1235 611h1v2h-1zM944 665h1v2h-1zM1238 617h1v3h-1zM1402 724h1v2h-1zM1163 708h1v2h-1zM656 648h1v2h-1zM1106 704h1v2h-1zM958 689h1v1h-1zM1192 626h1v3h-1zM1409 741h1v3h-1zM1200 603h1v3h-1zM1252 650h1v2h-1zM184 665h1v2h-1zM814 653h1v1h-1zM1062 638h1v1h-1zM1416 757h1v2h-1zM1179 664h1v3h-1zM321 640h1v1h-1zM803 643h1v1h-1zM180 673h1v2h-1zM1266 674h1v1h-1zM976 692h1v1h-1zM1345 675h1v1h-1zM1423 774h1v2h-1zM18 695h1v1h-1zM1098 690h1v2h-1zM1095 684h1v2h-1zM1162 710h1v2h-1zM1183 653h1v2h-1zM1034 646h1v1h-1zM1191 629h1v3h-1zM1170 690h1v3h-1zM327 645h1v1h-1zM379 692h1v1h-1zM665 640h1v1h-1zM799 640h1v1h-1zM646 663h1v1h-1zM1154 724h1v2h-1zM1087 669h1v2h-1zM1195 616h1v3h-1zM1401 722h1v2h-1zM843 660h1v1h-1zM1150 731h1v1h-1zM1244 630h1v2h-1zM1182 655h1v3h-1zM1459 784h1v1h-1zM855 647h1v1h-1zM1169 693h1v3h-1zM1415 755h1v2h-1zM323 642h1v1h-1zM817 656h1v1h-1zM1229 599h1v2h-1zM1153 726h1v2h-1zM1347 677h1v1h-1zM1194 619h1v3h-1zM1348 678h1v1h-1zM511 706h1v1h-1zM1290 673h1v1h-1zM1337 668h1v1h-1zM1173 682h1v3h-1zM190 655h1v2h-1zM621 699h1v1h-1zM1181 658h1v3h-1zM359 671h1v1h-1zM196 649h1v1h-1zM349 662h1v1h-1zM1086 667h1v2h-1zM1089 673h1v2h-1zM1298 667h1v1h-1zM990 672h1v2h-1zM17 696h1v2h-1zM657 647h1v1h-1zM952 680h1v2h-1zM12 702h1v1h-1zM1114 719h1v2h-1zM1066 643h1v1h-1zM1117 724h1v2h-1zM1067 644h1v1h-1zM1228 597h1v2h-1zM1231 603h1v2h-1zM664 641h1v1h-1zM176 679h1v1h-1zM1350 680h1v1h-1zM989 674h1v1h-1zM16 698h1v1h-1zM1285 677h1v1h-1zM1159 716h1v2h-1zM339 654h1v1h-1zM362 674h1v1h-1zM980 687h1v1h-1zM23 691h1v1h-1zM951 678h1v2h-1zM635 679h1v2h-1zM335 651h1v1h-1zM1452 793h1v1h-1zM631 685h1v2h-1zM848 655h1v2h-1zM1432 792h1v1h-1zM943 663h1v2h-1zM1429 786h1v2h-1zM1433 793h1v1h-1zM863 640h1v1h-1zM1404 728h1v3h-1zM1105 702h1v2h-1zM1108 708h1v2h-1zM854 648h1v1h-1zM634 681h1v1h-1zM813 652h1v1h-1zM382 694h1v1h-1zM1418 762h1v2h-1zM364 676h1v1h-1zM6 708h1v1h-1zM630 687h1v2h-1zM1165 703h1v3h-1zM1344 674h1v1h-1zM1295 669h1v1h-1zM991 670h1v2h-1zM1097 688h1v2h-1zM189 657h1v1h-1zM819 658h1v1h-1zM1403 726h1v2h-1zM1354 684h1v2h-1zM985 680h1v1h-1zM169 687h1v1h-1zM351 664h1v1h-1zM1077 655h1v1h-1zM373 687h1v1h-1zM815 654h1v1h-1zM1394 712h1v1h-1zM419 690h1v1h-1zM1395 713h1v1h-1zM1043 639h1v1h-1zM1346 676h1v1h-1zM1361 692h1v1h-1zM1506 786h1v1h-1zM1158 718h1v1h-1zM1069 646h1v1h-1zM636 677h1v2h-1zM821 660h1v1h-1zM358 670h1v1h-1zM822 661h1v1h-1zM512 705h1v1h-1zM1088 671h1v2h-1zM1091 677h1v1h-1zM1353 683h1v1h-1zM1464 779h1v1h-1zM1146 734h1v1h-1zM860 642h1v1h-1zM1456 788h1v1h-1zM1210 588h1v1h-1zM996 664h1v1h-1zM1397 715h1v1h-1zM847 657h1v1h-1zM1166 701h1v2h-1zM626 694h1v1h-1zM1411 747h1v2h-1zM1071 648h1v1h-1zM360 672h1v1h-1zM930 645h1v1h-1zM994 666h1v1h-1zM5 709h1v1h-1zM931 646h1v1h-1zM629 689h1v1h-1zM2 712h1v1h-1zM367 679h1v1h-1zM660 644h1v1h-1zM1040 641h1v1h-1zM842 661h1v1h-1zM671 635h1v1h-1zM168 688h1v1h-1zM1073 651h1v1h-1zM1453 792h1v1h-1zM811 650h1v1h-1zM179 675h1v1h-1zM933 648h1v1h-1zM849 654h1v1h-1zM1357 688h1v1h-1zM639 673h1v1h-1zM1289 674h1v1h-1zM1116 723h1v1h-1zM852 650h1v1h-1zM818 657h1v1h-1zM195 650h1v1h-1zM1207 590h1v1h-1zM1463 780h1v1h-1zM1364 694h1v1h-1zM859 643h1v1h-1zM1075 653h1v1h-1zM1076 654h1v1h-1zM995 665h1v1h-1z" fill="#000"/>
</g>
</g>
<g fill="#000" shape-rendering="crispEdges">
<rect x="2" y="2" width="1515" height="1"/>
<rect x="2" y="2" width="1" height="550"/>
<rect x="1516" y="2" width="1" height="550"/>
<rect x="2" y="551" width="1515" height="1"/>
<rect x="2" y="553" width="1515" height="1"/>
<rect x="2" y="553" width="1" height="274"/>
<rect x="1516" y="553" width="1" height="274"/>
<rect x="2" y="826" width="1516" height="1"/>
<rect x="1517" y="825" width="1" height="1"/>
<rect x="1517" y="36" width="2" height="1"/>
<rect x="1517" y="86" width="2" height="1"/>
<rect x="1517" y="135" width="2" height="1"/>
<rect x="1517" y="185" width="2" height="1"/>
<rect x="1517" y="235" width="2" height="1"/>
<rect x="1517" y="284" width="2" height="1"/>
<rect x="1517" y="334" width="2" height="1"/>
<rect x="1517" y="384" width="2" height="1"/>
<rect x="1517" y="433" width="2" height="1"/>
<rect x="1517" y="483" width="2" height="1"/>
<rect x="1517" y="533" width="2" height="1"/>
<rect x="1517" y="555" width="2" height="1"/>
<rect x="1517" y="698" width="2" height="1"/>
<rect x="3" y="827" width="1" height="3"/>
<rect x="99" y="827" width="1" height="3"/>
<rect x="195" y="827" width="1" height="3"/>
<rect x="291" y="827" width="1" height="3"/>
<rect x="387" y="827" width="1" height="3"/>
<rect x="483" y="827" width="1" height="3"/>
<rect x="579" y="827" width="1" height="3"/>
<rect x="675" y="827" width="1" height="3"/>
<rect x="771" y="827" width="1" height="3"/>
<rect x="867" y="827" width="1" height="3"/>
<rect x="963" y="827" width="1" height="3"/>
<rect x="1059" y="827" width="1" height="3"/>
<rect x="1155" y="827" width="1" height="3"/>
<rect x="1251" y="827" width="1" height="3"/>
<rect x="1347" y="827" width="1" height="3"/>
<rect x="1443" y="827" width="1" height="3"/>
</g>
<text x="1523" y="41" textLength="32" lengthAdjust="spacingAndGlyphs" xml:space="preserve">67.65</text>
<text x="1523" y="91" textLength="32" lengthAdjust="spacingAndGlyphs" xml:space="preserve">65.65</text>
<text x="1523" y="140" textLength="32" lengthAdjust="spacingAndGlyphs" xml:space="preserve">63.60</text>
<text x="1523" y="190" textLength="32" lengthAdjust="spacingAndGlyphs" xml:space="preserve">61.55</text>
<text x="1523" y="240" textLength="32" lengthAdjust="spacingAndGlyphs" xml:space="preserve">59.50</text>
<text x="1523" y="289" textLength="32" lengthAdjust="spacingAndGlyphs" xml:space="preserve">57.50</text>
<text x="1523" y="339" textLength="32" lengthAdjust="spacingAndGlyphs" xml:space="preserve">55.45</text>
<text x="1523" y="389" textLength="32" lengthAdjust="spacingAndGlyphs" xml:space="preserve">53.40</text>
<text x="1523" y="438" textLength="32" lengthAdjust="spacingAndGlyphs" xml:space="preserve">51.40</text>
<text x="1523" y="488" textLength="32" lengthAdjust="spacingAndGlyphs" xml:space="preserve">49.35</text>
<text x="1523" y="538" textLength="32" lengthAdjust="spacingAndGlyphs" xml:space="preserve">47.35</text>
<text x="1521" y="567" textLength="31" lengthAdjust="spacingAndGlyphs" xml:space="preserve">1.638</text>
<text x="1521" y="703" textLength="24" lengthAdjust="spacingAndGlyphs" xml:space="preserve">0.00</text>
<text x="1520" y="823" textLength="36" lengthAdjust="spacingAndGlyphs" xml:space="preserve">-1.449</text>
<g shape-rendering="crispEdges">
<rect x="1518" y="169" width="42" height="14" fill="#ff0000"/>
<rect x="1518" y="251" width="42" height="14" fill="#ff0000"/>
<rect x="1518" y="361" width="42" height="14" fill="#ff0000"/>
<rect x="1518" y="213" width="42" height="13" fill="#000"/>
<rect x="1511" y="255" width="5" height="5" fill="#ff0000"/><rect x="1512" y="256" width="3" height="3" fill="#fff"/>
<rect x="3" y="255" width="5" height="5" fill="#ff0000"/><rect x="4" y="256" width="3" height="3" fill="#fff"/>
</g>
<text x="1523" y="180.5" textLength="32" lengthAdjust="spacingAndGlyphs" fill="#fff" style="fill:#fff;stroke:#fff" xml:space="preserve">61.99</text>
<text x="1523" y="262.5" textLength="32" lengthAdjust="spacingAndGlyphs" fill="#fff" style="fill:#fff;stroke:#fff" xml:space="preserve">58.62</text>
<text x="1523" y="372.5" textLength="32" lengthAdjust="spacingAndGlyphs" fill="#fff" style="fill:#fff;stroke:#fff" xml:space="preserve">54.11</text>
<text x="1523" y="224" textLength="32" lengthAdjust="spacingAndGlyphs" fill="#fff" style="fill:#fff;stroke:#fff" xml:space="preserve">60.18</text>
<path d="M6 10h9v1h-1v1h-1v1h-1v1h-1v1h-1v-1h-1v-1h-1v-1h-1v-1h-1z" fill="#000" shape-rendering="crispEdges"/>
<text x="21.1" y="17" textLength="38" lengthAdjust="spacingAndGlyphs" xml:space="preserve">WT,H4</text>
<text x="67.7" y="17" textLength="31.6" lengthAdjust="spacingAndGlyphs" xml:space="preserve">60.72</text>
<text x="103.9" y="17" textLength="31.4" lengthAdjust="spacingAndGlyphs" xml:space="preserve">60.75</text>
<text x="139.9" y="17" textLength="31.4" lengthAdjust="spacingAndGlyphs" xml:space="preserve">60.12</text>
<text x="175.9" y="17" textLength="31.8" lengthAdjust="spacingAndGlyphs" xml:space="preserve">60.18</text>
<text x="7.3" y="569" textLength="83.7" lengthAdjust="spacingAndGlyphs" xml:space="preserve">MACD(12,26,9)</text>
<text x="96.7" y="569" textLength="34.5" lengthAdjust="spacingAndGlyphs" xml:space="preserve">-0.554</text>
<text x="136.4" y="569" textLength="34.1" lengthAdjust="spacingAndGlyphs" xml:space="preserve">-0.991</text>
<text x="180" y="569" textLength="47" lengthAdjust="spacingAndGlyphs" xml:space="preserve">-&gt;MA(1)</text>
<text x="231.8" y="569" textLength="34.5" lengthAdjust="spacingAndGlyphs" xml:space="preserve">-0.554</text>
<text x="2.5" y="842" textLength="69.5" lengthAdjust="spacingAndGlyphs" xml:space="preserve">24 Dec 2020</text>
<text x="98.5" y="842" textLength="74" lengthAdjust="spacingAndGlyphs" xml:space="preserve">31 Dec 08:00</text>
<text x="194.5" y="842" textLength="64" lengthAdjust="spacingAndGlyphs" xml:space="preserve">7 Jan 08:00</text>
<text x="290.5" y="842" textLength="70.3" lengthAdjust="spacingAndGlyphs" xml:space="preserve">13 Jan 08:00</text>
<text x="386.5" y="842" textLength="70.8" lengthAdjust="spacingAndGlyphs" xml:space="preserve">19 Jan 08:00</text>
<text x="482.5" y="842" textLength="71.3" lengthAdjust="spacingAndGlyphs" xml:space="preserve">25 Jan 08:00</text>
<text x="578.5" y="842" textLength="70.8" lengthAdjust="spacingAndGlyphs" xml:space="preserve">29 Jan 08:00</text>
<text x="674.5" y="842" textLength="66.5" lengthAdjust="spacingAndGlyphs" xml:space="preserve">4 Feb 08:00</text>
<text x="770.5" y="842" textLength="73" lengthAdjust="spacingAndGlyphs" xml:space="preserve">10 Feb 08:00</text>
<text x="866.5" y="842" textLength="72.5" lengthAdjust="spacingAndGlyphs" xml:space="preserve">16 Feb 12:00</text>
<text x="962.5" y="842" textLength="72.8" lengthAdjust="spacingAndGlyphs" xml:space="preserve">22 Feb 12:00</text>
<text x="1058.5" y="842" textLength="72.6" lengthAdjust="spacingAndGlyphs" xml:space="preserve">26 Feb 12:00</text>
<text x="1154.5" y="842" textLength="65.2" lengthAdjust="spacingAndGlyphs" xml:space="preserve">4 Mar 12:00</text>
<text x="1250.5" y="842" textLength="72.3" lengthAdjust="spacingAndGlyphs" xml:space="preserve">10 Mar 12:00</text>
<text x="1346.5" y="842" textLength="72" lengthAdjust="spacingAndGlyphs" xml:space="preserve">16 Mar 12:00</text>
<text x="1442.5" y="842" textLength="71.5" lengthAdjust="spacingAndGlyphs" xml:space="preserve">22 Mar 12:00</text>
</svg></body></html>
